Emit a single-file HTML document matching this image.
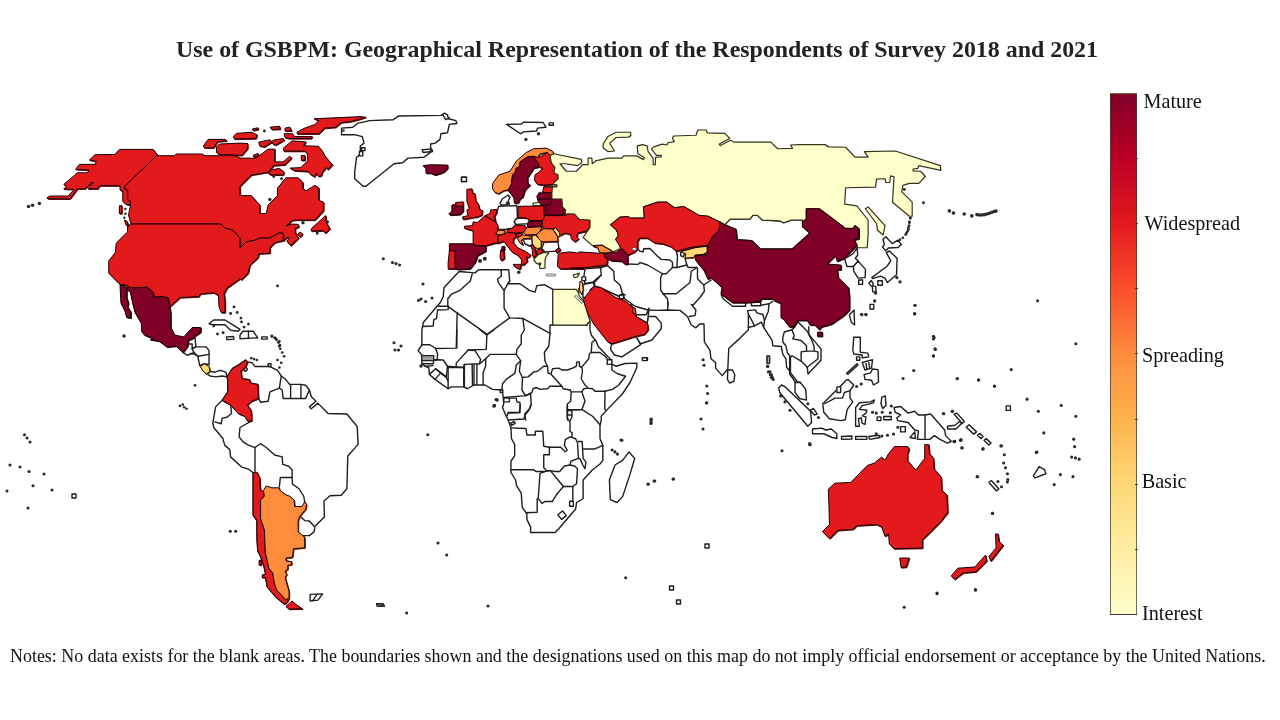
<!DOCTYPE html>
<html><head><meta charset="utf-8"><title>Use of GSBPM</title>
<style>
html,body{margin:0;padding:0;background:#fff;}
body{width:1280px;height:720px;position:relative;overflow:hidden;font-family:"Liberation Serif",serif;color:#1a1a1a;}
#title{position:absolute;left:176px;top:35.7px;font-size:23.9px;font-weight:bold;white-space:nowrap;color:#222;}
#notes{position:absolute;left:10px;top:645.7px;font-size:17.95px;white-space:nowrap;color:#111;}
#bar{position:absolute;left:1110px;top:92.5px;width:26.5px;height:522.5px;box-sizing:border-box;border:1px solid rgba(60,60,50,0.75);
background:linear-gradient(to top,#ffffcc 0%,#ffeda0 12.5%,#fed976 25%,#feb24c 37.5%,#fd8d3c 50%,#fc4e2a 62.5%,#e31a1c 75%,#bd0026 87.5%,#800026 100%);}
.lb{position:absolute;left:1143px;font-size:20.2px;line-height:20px;white-space:nowrap;color:#111;}
svg{position:absolute;left:0;top:0;}
.tk{position:absolute;left:1135px;width:3px;height:1px;background:#444;}
</style></head><body>
<div id="title">Use of GSBPM: Geographical Representation of the Respondents of Survey 2018 and 2021</div>
<svg width="1280" height="720" viewBox="0 0 1280 720">
<g fill="#fff" stroke="#1e1e1e" stroke-width="1.4" stroke-linejoin="round">
<polygon points="209.06,323.75 213.75,320 225,320 232.5,324.69 240,329.38 238.12,331.25 230.62,330.31 225,324.69 211.88,324.69"/>
<polygon points="240,335 242.81,331.25 253.12,331.25 257.81,337.81 240,338.75"/>
<polygon points="226.5,336.88 233.44,336.5 234,339.12 226.88,339.69"/>
<polygon points="261.56,336.88 267.19,336.88 267.19,339.12 261.56,339.12"/>
<polygon points="188.44,340.31 195,337.5 195.94,346.88 192.19,348.75 194.06,352.5 187.5,355.31 182.81,352.5 182.81,347.81"/>
<polygon points="195.94,346.88 206.25,346.88 209.06,350.62 209.06,364.69 204.38,363.75 199.69,365.62 197.81,356.25 194.06,352.5 192.19,348.75"/>
<polygon points="210,371.25 214.69,372.19 220.31,370.31 225.94,372.19 226.88,376.88 222.19,375.94 215.62,376.88 210,375.94 207.19,374.06"/>
<polygon points="226.88,376.88 232.5,368.44 239.06,364.69 245.62,360 247.5,361.88 252.19,362.81 255,366.56 270,366.56 277.5,370.31 281.25,375.94 285,378.75 289.69,384.38 300.94,384.38 305.62,385.31 309.38,390 311.25,396.56 315.94,401.25 309.38,406.88 311.25,408.75 317.81,403.12 328.12,413.44 346.88,414 357.19,426.56 358.12,444.38 347.81,455.94 346.88,488.75 341.25,495.31 330,495.69 324,500.94 324.38,516.88 315,526.25 314.06,531.88 309.38,535.62 302.81,535.62 304.69,537.5 304.69,547.81 293.44,548.75 292.5,557.19 285.94,558.12 285.94,560.94 291.56,561.88 291.56,564.69 287.81,565.25 287.81,569.38 285,571.25 286.72,574.38 285.16,577.5 289.06,591.56 289.06,598.59 286.72,602.5 284.38,604.06 276.56,597.81 267.19,586.88 265.62,577.5 262.5,577.5 262.5,575.16 265.62,574.38 264.06,566.56 260.16,555.62 257.81,550.94 257.03,540 256.88,520.62 253.12,515 253.12,472.81 248.44,469.06 241.88,467.19 230.62,456.88 229.69,449.38 225,445.62 223.12,440 223.12,438.75 213.75,427.5 212.81,422.81 215.62,406.88 222.19,400.31 227.81,391.88 227.81,379.69"/>
<polygon points="243.75,368.44 246,367.12 247.5,369.38 245.25,371.62"/>
<polygon points="310.16,594.38 322.66,593.91 317.97,600.16 310.16,600.94"/>
<polygon points="376.56,603.75 383.59,604.06 384.38,606.41 378.12,605.94"/>
<polygon points="341.56,128.12 352.81,127.19 357.5,123.44 369.69,120.62 393.12,119.69 398.75,115.94 440.94,115.38 444.69,113.12 447.5,115 448.44,118.75 455.94,120.62 456.88,123.44 449.38,124.38 447.5,132.81 440.94,133.75 440,139.38 435.31,143.12 430.62,144.06 430.62,147.81 432.5,150.62 427.81,154.38 424.06,157.19 408.12,158.12 402.5,162.81 394.06,163.75 365.94,186.25 363.12,186.25 354.69,178.75 354.69,172.19 356.56,157.19 360.31,154.38 360.31,145.94 364.06,143.12 362.19,136.56 354.69,134.69 341.56,134.69"/>
<polygon points="422.19,149.69 429.69,149.12 432.5,151.56 423.12,152.5"/>
<polygon points="506.56,124.38 521.56,124 523.44,122.12 543.12,122.5 545.94,127.19 537.5,128.12 536.56,130.94 523.44,131.88 520.62,133.75"/>
<polygon points="498.75,206.25 516.88,205.62 517.5,217.5 514.38,221.25 515.62,225 512.5,228.12 505,229.38 498.12,229.38 497.5,225 495,221.25 494.38,216.25 496.5,213.12"/>
<polygon points="500,203.12 502.5,198.75 508.12,195 510,197.5 508.12,201.25 509.38,204.38 505,205 501.25,205"/>
<polygon points="515,220 518.12,218.12 527.5,218.5 529.38,220.62 527.5,223.75 516.25,224.38 514.38,222.5"/>
<polygon points="523.12,239 531.88,238.5 532.5,243.75 530,246.25 525,243.75"/>
<polygon points="543.75,242.5 558.12,241.88 558.75,248.12 555,251.25 545,251.88 541.88,248.75"/>
<polygon points="459.06,271.56 475,272.88 478.75,269.69 508.75,269.69 509.69,280.94 507.81,283.75 520,283.75 529.38,290.31 535,292.19 536.88,285.62 544.38,284.69 552.81,289.38 586.25,325 590,321.25 590,330 591.25,335 596.25,341.25 598.12,346.25 607.5,356.25 611.25,360 611.88,364.38 616.25,366.25 625,363.5 636.88,363.12 636.88,367.5 630,382.5 622.5,393.75 606.25,410.62 601.25,416.25 601.25,420 600,425.62 600,438.75 602.81,445.31 602.81,460.31 600,464.06 592.5,469.69 583.12,480 583.12,498.75 576.56,502.5 575.62,509.06 558.75,528.75 555,532.5 530.62,532.5 530.62,526.88 526.88,519.38 526.88,513.75 522.19,507.19 521.25,493.12 516.56,485.62 515.62,480 510.94,472.5 510.94,461.25 514.69,455.62 514.69,444.38 511.5,438.75 510.94,427.5 508.12,420 506.25,416.25 502.5,407.5 503.75,403.75 503.12,396.25 502.5,392.5 501.25,390 492.5,389.38 485,385 473.75,385 467.5,388.75 463.75,386.88 451.25,386.88 448.12,388.75 435,379.38 429.38,374.38 428.75,367.5 425,366.25 421.88,363.75 421.88,355 418.12,350.62 421.88,345 421.88,330 422.5,326.88 423.44,322.19 440.31,302.5 443.12,296.88 444.06,287.5"/>
<polygon points="510.38,423.38 514.12,421.5 515.25,423.38 511.5,425.25"/>
<polygon points="557.81,514.69 562.5,510.94 566.25,515.62 561.56,519.38"/>
<polygon points="629.06,451.88 634.69,458.44 630,474.38 622.5,496.88 616.88,502.5 610.31,499.69 609.38,480 615,465 622.5,460.31"/>
<polygon points="680.62,252.5 683.12,251.5 685,253.75 683.12,256.88 680.62,255.62"/>
<polygon points="585,268.75 600.62,267.5 601.25,275 593.12,281.88 585,283.75 583.75,277.5"/>
<polygon points="593.12,282.5 594.38,286.25 590,290 590.62,295 583.12,298.12 582.5,290 583.75,284.38"/>
<polygon points="581.88,276.88 585.62,276.88 585.62,280.62 581.88,280.62"/>
<polygon points="611.56,343.75 635.94,336.25 640.62,344.69 621.88,356.88 614.38,355 610.62,349.38"/>
<polygon points="635.94,336.25 644.38,334.38 648.12,329.69 647.19,323.12 648.12,316.56 655.62,316.56 661.25,323.12 661.25,328.75 651.88,340 640.62,343.75"/>
<polygon points="635.94,316.56 642.5,320.31 647.19,323.12 648.12,316.56 649.06,308.12 646.25,314.69 636.88,314.69"/>
<polygon points="721.25,295 725,294.06 733.44,301.56 745.62,302.5 745.62,306.25 732.5,306.25 723.12,298.75"/>
<polygon points="727.81,370 732.5,370 734.75,374.69 734,381.25 729.69,383.12 727.44,379.38"/>
<polygon points="724.69,224.69 730.31,219.06 750,219.06 752.81,215.31 757.5,215.31 762.19,220 780,220.94 783.75,222.81 791.25,220 802.5,220 802.5,226.56 810,233.12 792.19,249.06 760.31,249.06 751.88,240.62 736.88,239.69 735.94,229.38"/>
<polygon points="844.58,258.67 852.84,253.81 857.21,247.98 857.7,255.27 855.27,258.18 858.18,261.1 853.32,266.44 847.01,266.44"/>
<polygon points="853.32,266.44 858.18,261.1 865.47,269.36 865.18,277.62 858.18,278.1 853.81,271.3"/>
<polygon points="882.96,239.23 885.88,236.8 892.2,243.61 898.03,240.2 901.43,244.58 898.03,247.49 888.31,247.98 885.88,250.89 882.48,247.01 884.42,244.58"/>
<polygon points="886.37,252.84 889.28,250.89 897.06,258.18 896.57,274.7 887.34,282.48 884.91,278.1 880.53,276.16 872.76,278.59 871.79,277.62 887.34,265.96 890.74,260.61"/>
<polygon points="868.87,282.96 871.3,280.53 873.25,283.94 872.76,285.88 875.68,286.37 876.16,292.2 872.76,291.71 872.27,286.37 870.82,285.88"/>
<polygon points="849.38,314.69 854.06,310 854.62,325 851.25,322.19"/>
<polygon points="707.5,275.62 710.62,274 712.5,276.25 709.38,279"/>
<polygon points="751.46,302.23 760.64,302.23 760.64,305.75 751.46,305.75"/>
<polygon points="778.75,387.81 781.56,385 785.31,386.88 810.62,411.25 811.56,422.5 807.81,426.25 779.69,392.5"/>
<polygon points="812.5,429.06 821.88,428.12 825.62,430 831.25,429.06 836.88,433.75 836.88,438.44 832.19,437.5 823.75,433.75 812.5,433.75"/>
<polygon points="810.25,410.31 813.44,408.44 817.19,414.06 814.38,415"/>
<polygon points="822.81,403.75 846.25,380.31 848.12,379.38 853.75,385 850,390.62 850,398.12 852.81,401.88 847.19,409.38 845.31,419.69 840.62,420.62 829.38,418.75 823.75,412.19"/>
<polygon points="855.62,407.5 859.38,402.81 870.62,401.88 874.38,400 873.44,402.81 862.19,405.62 859.38,409.38 866.88,410.31 865.94,413.12 862.19,415.94 865.94,416.88 865,424.38 862.19,423.44 861.25,417.81 858.44,418.75 859.38,426.25 855.62,426.25"/>
<polygon points="853.75,337.19 860.31,337.19 860.31,352.19 867.81,353.12 868.75,356.88 862.19,357.81 862.19,355 853.75,354.06 852.81,350.31"/>
<polygon points="862.19,362.5 872.5,359.69 871.56,368.12 865,370"/>
<polygon points="864.06,374.69 870.62,372.81 872.5,369.06 878.12,369.62 878.5,382.19 873.44,385 871.56,380.31 865,379.38"/>
<polygon points="846.62,373.19 856.94,363.81 858.06,364.94 847.75,374.31"/>
<polygon points="881.88,397.19 885.25,395.88 886,405.62 882.81,408.44 880.94,403.75"/>
<polygon points="894.06,407.5 900.62,406.56 908.12,413.12 914.69,411.25 918.44,415 925,415 930.62,414.06 944.69,430 945.62,435.62 951.25,441.25 947.5,443.12 940,439.38 934.38,435.62 929.69,439.38 925,439.38 917.5,439.38 918.44,430.94 914.69,430 908.12,422.5 897.81,420.62 896.88,417.81 900.62,415 895,412.19"/>
<polygon points="947.5,426.25 955,425.31 959.69,421.56 961.56,423.44 955.94,429.06 947.5,429.06"/>
<polygon points="954.06,414.06 956.88,413.12 964.38,421.56 962.12,423.44"/>
<polygon points="966.25,427.19 969.06,424.75 976.56,431.88 973.75,434.12"/>
<polygon points="977.5,435.25 979.75,433.38 983.12,436.56 980.88,438.62"/>
<polygon points="984.06,440.31 986.31,438.62 991,443.12 988.75,445"/>
<polygon points="841.56,436.56 851.88,436 851.88,439 841.56,439.38"/>
<polygon points="855.62,436.56 866.88,436.56 866.88,439.38 855.62,439.38"/>
<polygon points="868.75,436.56 879.06,435.25 880,437.5 869.69,439.38"/>
<polygon points="877.19,416.88 880.94,416.88 880.94,420.62 877.19,420.62"/>
<polygon points="883.75,416.5 891.25,416.5 891.25,419.69 883.75,419.69"/>
<polygon points="900.62,426.62 905.31,426.62 905.31,431.88 900.62,431.88"/>
<polygon points="910,437.5 914.69,431.88 915.62,438.44"/>
<polygon points="988.98,482.44 991.34,480.55 998.9,489.06 996.54,490.94"/>
<polygon points="1033.33,475.83 1039.17,466.67 1044.58,469.58 1045.83,473.75 1035,477.92"/>
<rect x="268.12" y="363.75" width="2.82" height="2.81"/>
<rect x="359.38" y="151.56" width="3.37" height="4.32"/>
<rect x="361.62" y="147.81" width="3.38" height="2.81"/>
<rect x="549.12" y="122.88" width="4.32" height="2.43"/>
<rect x="461.56" y="177.25" width="4.69" height="4.31"/>
<rect x="461.5" y="177.25" width="5" height="4.25"/>
<rect x="544.38" y="184.75" width="12.5" height="2.13"/>
<rect x="503.75" y="398.12" width="5.63" height="3.76"/>
<rect x="421.88" y="355.62" width="11.87" height="5"/>
<rect x="500.25" y="389.75" width="2.5" height="2.75"/>
<rect x="607.25" y="359.75" width="4.63" height="4.63"/>
<rect x="642.5" y="357.75" width="5" height="2.5"/>
<rect x="569.62" y="501.19" width="3.76" height="5.06"/>
<rect x="705" y="544" width="4" height="4"/>
<rect x="669.5" y="586" width="4" height="4"/>
<rect x="676.5" y="600" width="4" height="4"/>
<rect x="377" y="604" width="5" height="2"/>
<rect x="632.5" y="247.25" width="3.75" height="3.37"/>
<rect x="619.38" y="295" width="4.12" height="3.75"/>
<rect x="642.5" y="357.81" width="4.31" height="2.81"/>
<rect x="767.19" y="356.5" width="2.43" height="6"/>
<rect x="858.67" y="280.05" width="3.89" height="4.37"/>
<rect x="877.81" y="280.73" width="4.47" height="4.47"/>
<rect x="870" y="304.38" width="3.75" height="4.68"/>
<rect x="836.88" y="386.88" width="3.74" height="5.62"/>
<rect x="856.56" y="356.88" width="3.19" height="3.37"/>
<rect x="767.12" y="355.94" width="2.26" height="7.5"/>
<rect x="1006.25" y="405.83" width="4.17" height="4.59"/>
<rect x="72" y="494" width="4" height="4"/>
</g>
<g fill="none" stroke="#1e1e1e" stroke-width="1.4" stroke-linejoin="round" stroke-linecap="round">
<polyline points="248.44,331.25 248.44,338.19"/>
<polyline points="188.44,344.06 192.19,344.06 192.19,348.75"/>
<polyline points="190.31,353.44 195,354.38 197.81,356.25"/>
<polyline points="197.81,356.25 209.06,354.38"/>
<polyline points="247.5,361.88 245.62,366.56 240.94,371.25 241.88,378.75 249.38,379.69 251.25,383.44 257.81,384.38 258.38,398.44 260.62,402.19 268.12,401.25 270,391.88 279.38,388.12 281.25,375.94"/>
<polyline points="279.38,388.12 282.19,390 283.12,398.44 290.62,398.44 300.94,398.44 305.62,398.44 309.38,390"/>
<polyline points="290.62,384.38 290.62,398.44"/>
<polyline points="300.94,384.38 300.94,398.44"/>
<polyline points="222.19,400.31 230.62,405 231.56,413.44 226.88,417.19 222.19,418.12 221.25,423.75 214.69,421.88"/>
<polyline points="251.62,420.94 240,427.5 239.06,436.88 242.81,441.56 247.5,444.69 252.19,446.56 255,447.5 255,471.88"/>
<polyline points="255,447.5 260.62,443.75 266.25,447.5 274.69,455 282.19,456.88 282.75,464.38 288.75,466.25 292.12,470 292.12,477.5 280.31,477.5 279.38,486.88"/>
<polyline points="292.12,477.5 292.5,484.06 299.06,488.75 303.75,496.25 304.69,501.88"/>
<polyline points="300,515.94 300.94,516.88 304.69,520.62 309.38,521 314.06,526.25"/>
<polyline points="312.81,600.62 317.19,594.22"/>
<polyline points="442.81,115 445.62,119.69 449.38,117.81"/>
<polyline points="490,213.5 494.38,216.25"/>
<polyline points="472.19,274 470.31,280.94 460,290.31 451.56,294.06 447.81,298.75 447.81,306.25 438.44,306.25"/>
<polyline points="448.19,306.25 448.19,309.62 437.5,310 436.56,318.44 433.75,319.94 433.19,325.94 422.5,326.5"/>
<polyline points="448.19,306.62 487.19,334.38 509.69,317.88"/>
<polyline points="457.19,312.81 456.25,347.5"/>
<polyline points="501.25,269.69 501.25,276.25 497.5,279.06 498.44,282.81 504.06,290.31 509.69,280.94"/>
<polyline points="504.06,290.31 504.06,308.12 509.69,317.88 522.81,318.44 550,333.44 550,325 552.81,325 552.81,289.38"/>
<polyline points="552.81,325 587.5,325"/>
<polyline points="421.88,344.75 430,344.75 435.62,348.5 456.88,348.12 456.88,330"/>
<polyline points="435.62,348.5 437.5,353.75 437.25,359.38 433.75,360"/>
<polyline points="421.88,363.75 433.12,363.75 433.75,360.62 437.25,359.75 443.12,360 447.5,366.25 456.25,366.88 456.25,363.12 468.12,350 486.25,349.38 486.88,335"/>
<polyline points="480,330 486.88,335 493.75,330"/>
<polyline points="425,366.25 433.12,365.62"/>
<polyline points="468.12,350 475,350.62 480.62,359.38 479.38,363.75 464.38,364.38 463.75,367.5 456.25,366.88"/>
<polyline points="429.38,374.38 435.62,368.75 440.62,373.12 435,379.38"/>
<polyline points="435.62,368.75 437.5,370 446.25,376.88 447.5,366.25"/>
<polyline points="440.62,373.12 446.25,377.5 448.12,381.25 448.12,388.75"/>
<polyline points="448.12,381.25 448.12,367.5 463.75,367.5 463.75,386.88"/>
<polyline points="464.38,364.38 464.38,386.88"/>
<polyline points="472.12,364.38 472.5,385"/>
<polyline points="474,365 474,385"/>
<polyline points="476.88,364.38 476.88,384.38"/>
<polyline points="479.38,364 485.62,358.75 485.62,366.25 483.12,372.5 483.12,384.38"/>
<polyline points="485.62,358.75 490,354.38 516.25,354.38 520.62,360.62 516.25,365 515,373.12 506.25,379.38 502.5,383.75 501.88,390"/>
<polyline points="516.25,354.38 516.88,349.38 521.25,343.75 521.25,335 524.38,330 522.81,318.44"/>
<polyline points="520.62,360.62 519.38,371.25 522.5,377.5 521.88,390 525.62,395.62 503.75,397.5"/>
<polyline points="522.5,377.5 528.12,376.88 533.75,371.88 537.5,371.25 543.75,366.25 547.5,366.25"/>
<polyline points="550,333.44 548.75,346.25 544.38,352.5 545,361.25 547.5,366.25 548.12,373.12 550.62,373.75 561.88,386.25"/>
<polyline points="525.62,395.62 531.88,392.5 533.12,388.75 536.25,387.5 540,389.38 547.5,388.75 550,386.25 561.88,386.25 563.12,388.75 570,390"/>
<polyline points="509.38,398.12 516.25,398.12 516.88,401.88 520,402.5 520,412.5 508.12,413.12 506.88,416.25"/>
<polyline points="525.62,395.62 530.62,393.75 531.25,405 528.12,411.25 525,415 525.62,420"/>
<polyline points="551.25,373.12 552.5,368.75 558.75,368.12 561.88,370 567.5,370 572.5,368.12 576.25,366.25 576.88,361.88 579.38,361.88 579.38,366.25 581.88,367.5 582.5,371.25 581.25,378.75 585,385 588.12,388.12 592.5,388.75 595,391.25 601.25,391.25 605,391.25 612.5,389.38 618.75,385 625.62,376.25 617.5,373.75 611.88,370 611.88,364.38"/>
<polyline points="581.88,366.88 588.75,358.75 589.38,353.75 591.25,352.5 600,352.5 605,356.25 607.5,359.38"/>
<polyline points="594.38,340.62 591.88,342.5 591.25,352.5"/>
<polyline points="588.12,388.12 583.75,388.75 581.88,391.88 571.25,391.88 570,390"/>
<polyline points="605,391.25 604.75,408.75 606.25,410.62"/>
<polyline points="571.25,391.88 570.62,401.25 567.5,403.75 567.5,420"/>
<polyline points="567.5,410 581.88,409.38 585,401.25 581.88,391.88"/>
<polyline points="567.5,415 571.88,415"/>
<polyline points="508.12,412.5 519.38,412.5 520.31,405"/>
<polyline points="508.12,420 524.06,419.06 525,413.44 529.69,408.75 530.62,405"/>
<polyline points="510.94,427.88 525.94,428.44 526.88,435 535.31,435 535.31,431.25 542.81,431.25 543.75,446.25 549.38,447.19 549.38,454.69 543.75,454.69 543.75,467.81 546.56,470.62"/>
<polyline points="510.94,469.69 533.44,469.69 536.25,471.56 544.69,471.56 550.31,470.62"/>
<polyline points="549.38,447.19 560.62,447.19 565.31,451.88 567.19,450 564.38,445.31 565.31,439.69 570,436.88 575.62,438.75 577.5,442.5 578.44,458.44 570.94,461.25 570,465 564.38,465.94 559.69,471.56 555,471.56 550.31,470.62 546.56,470.62"/>
<polyline points="544.69,471.56 540,473.44 539.06,487.5 538.12,498.75 540,500.62 541.88,503.44 544.69,501.56 552.19,501.56 556.88,494.06 563.44,486.56 555,476.25 550.31,470.62"/>
<polyline points="537.19,498.75 537.19,512.25 525.94,512.81"/>
<polyline points="563.44,486.56 572.81,486.56 576.56,483.75 577.5,468.75 574.69,465.94 570,465"/>
<polyline points="572.81,486.56 572.81,501.56"/>
<polyline points="578.44,441.56 582.19,441.56 583.12,458.44 585.94,462.19 585,468.75 582.75,465 580.31,459.38 579,458.44"/>
<polyline points="583.12,449.06 594.38,449.06 602.81,445.31"/>
<polyline points="567.19,409.69 582.19,409.69 592.5,416.25 600,424.69"/>
<polyline points="567.19,405 567.19,418.12 570,421.88 570,431.25 572.25,433.12 571.88,436.88"/>
<polyline points="567.19,410.62 571.88,410.62 571.88,417.19 570,420.94"/>
<polyline points="637.5,248.75 640,251.25 643.12,251.88 643.75,248.75 650,248.5 657.5,256.25 661.25,259.38 670,260 672.5,262.5 672.5,267.5 666.25,273.75 662.5,273.75 647.5,265 640,262.5 638.12,264.38 627.5,264"/>
<polyline points="676.25,251.25 677.5,256.25 676.88,267.5 672.5,267.5"/>
<polyline points="676.88,267.5 686.88,265 688.12,267.5 696.88,267.5"/>
<polyline points="685,258.12 686.88,265"/>
<polyline points="607.5,258.75 607.5,265.62 613.75,271.25 614.38,280 620,285 622.5,293.75 625,295"/>
<polyline points="662.5,273.75 660.62,277.5 660.62,290 663.12,293.75 667.5,298.75 668.12,305"/>
<polyline points="696.88,267.5 691.25,271.25 690,282.5 676.25,293.75 663.12,293.75"/>
<polyline points="697.5,268.75 697.5,278.75 703.75,285 704.38,291.25 700,297.5 693.12,305 691.25,304.38 695.94,310 695,315.62 689.38,316.56"/>
<polyline points="703.75,285 711.25,280"/>
<polyline points="601.25,267.5 607.5,265.62"/>
<polyline points="601.25,275 594.38,282.5 595,286.25 600,287.5 618.75,296.25 622.5,293.75"/>
<polyline points="622.81,294.06 624.69,298.75 635,306.25 648.12,310 657.5,310.38 667.81,310 680,310.38 687.5,316.56 691.25,325 695.94,327.81 699.69,324.06 704,324.06 704.38,341.88 710,350.31 710.94,358.75 715.62,362.5 715.62,368.12 722.19,375.62 727.81,369.06 728.75,348.44 740,338.12 748.44,329.69 748.44,326.88"/>
<polyline points="667.81,310 667.81,302.5"/>
<polyline points="748.41,327.45 754.52,325.92 761.4,322.1 763.69,327.45 772.1,340.45 772.87,345.8 781.27,346.56 782.8,354.2 785.86,358.79 786.62,367.2 789.68,371.02"/>
<polyline points="793.5,322.87 794.27,327.45 791.97,329.75 784.33,332.04 782.8,337.39 782.8,341.97 785.86,345.8 787.39,352.68 789.68,355.73 789.68,374.08 795.03,381.72 795.03,392.42 799.62,398.54 806.5,400.06 805.73,389.36 800.38,382.48 797.32,381.72 790.45,372.55 790.45,357.26 791.97,355.73 801.15,361.08"/>
<polyline points="772.87,301.46 769.04,303.76 768.28,311.4 764.46,320.57 763.69,327.45"/>
<polyline points="748.41,327.45 748.41,314.46 747.64,310.64 755.29,309.87 756.82,312.93 762.93,314.46 764.46,320.57"/>
<polyline points="748.41,314.46 750.7,318.28 754.52,325.92"/>
<polyline points="760.64,305.29 769.04,303.76"/>
<polyline points="791.97,329.75 794.27,335.86 792.74,338.92 801.15,340.45 806.5,345.8 806.5,351.15"/>
<polyline points="793.5,322.87 797.32,321.34 807.26,331.27 811.85,340.45 814.14,346.56 814.14,351.15 806.5,351.15 801.15,351.91 801.15,361.08 807.26,367.2 817.96,358.79 817.96,351.91 814.14,351.15"/>
<polyline points="808.79,326.69 808.79,334.33 821.02,348.85 821.02,360.32 808.03,374.08 807.26,367.2"/>
<polyline points="795.03,382.48 800.38,382.48"/>
<polyline points="824.69,403.75 835,398.12 842.5,398.12 844.38,392.5 850,390.62"/>
<polyline points="865.94,363.44 866.88,369.06"/>
<polyline points="868.75,362.5 869.69,368.12"/>
<polyline points="925,415 925,439.38"/>
</g>
<g fill="#e8e8e0" stroke="#777" stroke-width="0.9">
<polygon points="546.25,274 555.62,274 555.62,276 546.25,276"/>
</g>
<g fill="none" stroke="#555" stroke-width="0.6">
<polyline points="422.12,356.62 433.5,356.62"/>
<polyline points="422.12,357.62 433.5,357.62"/>
<polyline points="422.12,358.62 433.5,358.62"/>
<polyline points="422.12,359.62 433.5,359.62"/>
</g>
<g stroke-linejoin="round">
<polygon points="119.38,149.38 153.12,149.38 157.5,155.25 124.75,186.25 125,189.38 127.75,190 127.75,200 130.62,201.25 130.62,205 126.25,204.38 122.75,201.25 122.75,191.25 120,190 120,185.62 100,185.62 97.5,188.75 88.12,188.75 93.75,182.5 91.88,182.5 85,188.75 77.5,188.75 70,198.75 48.12,198.75 46.88,197.75 50,196 68.12,196 74.38,189.38 63.75,189 66.25,186.5 63.75,184.38 77.5,172.75 87.5,172.75 88.75,170 75.62,169.38 79.38,164.38 95,164.38 96.25,161.25 89.38,160 95,154.75 115,154.38" fill="#6e0d0e" stroke="#6e0d0e" stroke-width="1" transform="translate(0.7,0.7)"/>
<polygon points="119.38,149.38 153.12,149.38 157.5,155.25 124.75,186.25 125,189.38 127.75,190 127.75,200 130.62,201.25 130.62,205 126.25,204.38 122.75,201.25 122.75,191.25 120,190 120,185.62 100,185.62 97.5,188.75 88.12,188.75 93.75,182.5 91.88,182.5 85,188.75 77.5,188.75 70,198.75 48.12,198.75 46.88,197.75 50,196 68.12,196 74.38,189.38 63.75,189 66.25,186.5 63.75,184.38 77.5,172.75 87.5,172.75 88.75,170 75.62,169.38 79.38,164.38 95,164.38 96.25,161.25 89.38,160 95,154.75 115,154.38" fill="#e31a1c" stroke="#1c0206" stroke-width="1"/>
<polygon points="156.56,155.69 174.38,155.69 176.25,154 202.5,154 204.38,155.69 236.25,155.69 240,158.12 255.94,158.12 268.12,149.12 274.69,149.12 274.69,161.88 283.12,161.88 289.69,156.25 291.56,158.12 285,164.69 273.75,165.62 268.12,172.19 251.25,175 240,186.25 240,195.62 251.25,195.62 259.69,205 259.69,213.44 266.25,213.44 268.12,205 277.5,195.62 277.5,188.12 285.94,177.81 298.12,177.81 302.81,182.5 302.81,188.12 305.62,190.94 315,185.31 318.75,188.12 318.75,200.31 323.44,202.19 323.44,210.62 315,220 295.31,220 291.88,220.62 286.25,226 291.88,224 298.12,224.38 298.75,226.88 295,228.75 295.62,233.75 298.75,238.12 290.62,245.62 286.88,241.25 289.38,238.12 287.5,237.25 283.5,240.62 283.12,233.12 278.75,233.12 270,238.12 260,238.12 253.75,240.62 246.25,241.88 240,248.12 240,238.12 232.5,230 225,228.12 221.25,224.38 219.4,224 131,224 128.5,215 130.6,205 130.62,201.25 127.75,200 127.75,190 125,189.38 124.75,186.25" fill="#6e0d0e" stroke="#6e0d0e" stroke-width="1" transform="translate(0.7,0.7)"/>
<polygon points="156.56,155.69 174.38,155.69 176.25,154 202.5,154 204.38,155.69 236.25,155.69 240,158.12 255.94,158.12 268.12,149.12 274.69,149.12 274.69,161.88 283.12,161.88 289.69,156.25 291.56,158.12 285,164.69 273.75,165.62 268.12,172.19 251.25,175 240,186.25 240,195.62 251.25,195.62 259.69,205 259.69,213.44 266.25,213.44 268.12,205 277.5,195.62 277.5,188.12 285.94,177.81 298.12,177.81 302.81,182.5 302.81,188.12 305.62,190.94 315,185.31 318.75,188.12 318.75,200.31 323.44,202.19 323.44,210.62 315,220 295.31,220 291.88,220.62 286.25,226 291.88,224 298.12,224.38 298.75,226.88 295,228.75 295.62,233.75 298.75,238.12 290.62,245.62 286.88,241.25 289.38,238.12 287.5,237.25 283.5,240.62 283.12,233.12 278.75,233.12 270,238.12 260,238.12 253.75,240.62 246.25,241.88 240,248.12 240,238.12 232.5,230 225,228.12 221.25,224.38 219.4,224 131,224 128.5,215 130.6,205 130.62,201.25 127.75,200 127.75,190 125,189.38 124.75,186.25" fill="#e31a1c" stroke="#1c0206" stroke-width="1"/>
<polygon points="311.25,228.75 325.62,215.62 326.25,222.5 330,228.75 325.62,233.12 322.5,230.62 311.25,231" fill="#6e0d0e" stroke="#6e0d0e" stroke-width="1" transform="translate(0.7,0.7)"/>
<polygon points="311.25,228.75 325.62,215.62 326.25,222.5 330,228.75 325.62,233.12 322.5,230.62 311.25,231" fill="#e31a1c" stroke="#1c0206" stroke-width="1"/>
<polygon points="300,231.88 302.75,234.38 300,237.12 297.5,234.38" fill="#6e0d0e" stroke="#6e0d0e" stroke-width="1" transform="translate(0.7,0.7)"/>
<polygon points="300,231.88 302.75,234.38 300,237.12 297.5,234.38" fill="#e31a1c" stroke="#1c0206" stroke-width="1"/>
<polygon points="208.12,139.38 225,139.38 226.88,140.88 217.5,141.62 213.75,147.81 204.38,147.81 203.44,145.94" fill="#6e0d0e" stroke="#6e0d0e" stroke-width="1" transform="translate(0.7,0.7)"/>
<polygon points="208.12,139.38 225,139.38 226.88,140.88 217.5,141.62 213.75,147.81 204.38,147.81 203.44,145.94" fill="#e31a1c" stroke="#1c0206" stroke-width="1"/>
<polygon points="219.38,144.06 240,143.12 247.5,143.5 247.5,148.75 241.88,155.31 219.38,154.38 216.56,152.5 216.56,146.88" fill="#6e0d0e" stroke="#6e0d0e" stroke-width="1" transform="translate(0.7,0.7)"/>
<polygon points="219.38,144.06 240,143.12 247.5,143.5 247.5,148.75 241.88,155.31 219.38,154.38 216.56,152.5 216.56,146.88" fill="#e31a1c" stroke="#1c0206" stroke-width="1"/>
<polygon points="236.25,133.38 251.25,132.25 256.88,134.69 255.94,138.44 234.38,139 233.44,136.56" fill="#6e0d0e" stroke="#6e0d0e" stroke-width="1" transform="translate(0.7,0.7)"/>
<polygon points="236.25,133.38 251.25,132.25 256.88,134.69 255.94,138.44 234.38,139 233.44,136.56" fill="#e31a1c" stroke="#1c0206" stroke-width="1"/>
<polygon points="270,127.19 279.38,126.25 280.31,129.06 271.88,129.44" fill="#6e0d0e" stroke="#6e0d0e" stroke-width="1" transform="translate(0.7,0.7)"/>
<polygon points="270,127.19 279.38,126.25 280.31,129.06 271.88,129.44" fill="#e31a1c" stroke="#1c0206" stroke-width="1"/>
<polygon points="285,128.12 289.69,127.19 291.56,130.94 285,130.94" fill="#6e0d0e" stroke="#6e0d0e" stroke-width="1" transform="translate(0.7,0.7)"/>
<polygon points="285,128.12 289.69,127.19 291.56,130.94 285,130.94" fill="#e31a1c" stroke="#1c0206" stroke-width="1"/>
<polygon points="252.19,129.06 257.81,127.75 258.38,129.25 253.12,130.56" fill="#6e0d0e" stroke="#6e0d0e" stroke-width="1" transform="translate(0.7,0.7)"/>
<polygon points="252.19,129.06 257.81,127.75 258.38,129.25 253.12,130.56" fill="#e31a1c" stroke="#1c0206" stroke-width="1"/>
<polygon points="258.75,142.19 270,139.75 271.88,142.19 264.38,146.88 259.69,145.94" fill="#6e0d0e" stroke="#6e0d0e" stroke-width="1" transform="translate(0.7,0.7)"/>
<polygon points="258.75,142.19 270,139.75 271.88,142.19 264.38,146.88 259.69,145.94" fill="#e31a1c" stroke="#1c0206" stroke-width="1"/>
<polygon points="272.81,140.31 283.12,138.44 284.06,140.31 275.62,145 272.81,144.06" fill="#6e0d0e" stroke="#6e0d0e" stroke-width="1" transform="translate(0.7,0.7)"/>
<polygon points="272.81,140.31 283.12,138.44 284.06,140.31 275.62,145 272.81,144.06" fill="#e31a1c" stroke="#1c0206" stroke-width="1"/>
<polygon points="314.06,118.75 354.38,116.88 360,116.5 365.62,117.25 360,119.12 350.62,121.56 341.25,122.5 335.62,127.19 324.38,128.12 318.75,133.75 297.19,133.75 297.19,131.88 304.69,128.12 315,124.38 318.75,120.62" fill="#6e0d0e" stroke="#6e0d0e" stroke-width="1" transform="translate(0.7,0.7)"/>
<polygon points="314.06,118.75 354.38,116.88 360,116.5 365.62,117.25 360,119.12 350.62,121.56 341.25,122.5 335.62,127.19 324.38,128.12 318.75,133.75 297.19,133.75 297.19,131.88 304.69,128.12 315,124.38 318.75,120.62" fill="#e31a1c" stroke="#1c0206" stroke-width="1"/>
<polygon points="284.06,133.75 292.5,133.75 294.38,136.56 312.19,136.56 311.25,138.44 288.75,138.44 285,137.5" fill="#6e0d0e" stroke="#6e0d0e" stroke-width="1" transform="translate(0.7,0.7)"/>
<polygon points="284.06,133.75 292.5,133.75 294.38,136.56 312.19,136.56 311.25,138.44 288.75,138.44 285,137.5" fill="#e31a1c" stroke="#1c0206" stroke-width="1"/>
<polygon points="271.88,169.75 279.38,168.44 284.06,172.19 283.12,175 270,174.62 268.12,173.12" fill="#6e0d0e" stroke="#6e0d0e" stroke-width="1" transform="translate(0.7,0.7)"/>
<polygon points="271.88,169.75 279.38,168.44 284.06,172.19 283.12,175 270,174.62 268.12,173.12" fill="#e31a1c" stroke="#1c0206" stroke-width="1"/>
<polygon points="253.12,155.31 257.81,153.44 258.75,155.31 254.06,157.19" fill="#6e0d0e" stroke="#6e0d0e" stroke-width="1" transform="translate(0.7,0.7)"/>
<polygon points="253.12,155.31 257.81,153.44 258.75,155.31 254.06,157.19" fill="#e31a1c" stroke="#1c0206" stroke-width="1"/>
<polygon points="283.32,148.18 289.15,143.32 292.07,140.89 305.68,141.87 303.73,145.75 318.31,146.24 322.2,151.1 324.63,155.96 332.4,164.7 328.03,169.56 326.08,167.62 322.2,172.48 321.22,175.88 318.31,176.37 316.37,172.96 314.42,176.85 310.53,174.42 308.59,171.51 294.01,170.53 290.13,168.1 300.82,167.62 307.62,160.82 307.62,154.01 304.7,151.1 283.81,151.1" fill="#6e0d0e" stroke="#6e0d0e" stroke-width="1" transform="translate(0.7,0.7)"/>
<polygon points="283.32,148.18 289.15,143.32 292.07,140.89 305.68,141.87 303.73,145.75 318.31,146.24 322.2,151.1 324.63,155.96 332.4,164.7 328.03,169.56 326.08,167.62 322.2,172.48 321.22,175.88 318.31,176.37 316.37,172.96 314.42,176.85 310.53,174.42 308.59,171.51 294.01,170.53 290.13,168.1 300.82,167.62 307.62,160.82 307.62,154.01 304.7,151.1 283.81,151.1" fill="#e31a1c" stroke="#1c0206" stroke-width="1"/>
<polygon points="301.3,155.47 304.9,155.47 304.9,160.33 301.3,160.33" fill="#6e0d0e" stroke="#6e0d0e" stroke-width="1" transform="translate(0.7,0.7)"/>
<polygon points="301.3,155.47 304.9,155.47 304.9,160.33 301.3,160.33" fill="#e31a1c" stroke="#1c0206" stroke-width="1"/>
<polygon points="131,224 219.4,224 221.25,224.38 225,228.12 232.5,230 240,238.12 240,248.12 246.25,241.88 253.75,240.62 260,238.12 270,238.12 278.75,233.12 283.12,233.12 283.38,240.62 275,242.5 270,247.5 270,253.12 258.75,253.75 258.12,257.5 250,265 248.75,270 248.12,273.12 241.25,280 240,278.75 226.88,288.12 224.06,293.75 225,301.25 225,312.5 221.25,312.5 219,306.88 218.44,295.62 213.75,292.81 200.62,293.75 198.75,296.56 180,297.5 169.69,306.88 167.81,297.5 159.38,296.56 153.75,297.5 152.81,291.88 147.19,287.19 130.31,288.12 127.5,285.31 120,284.38 108.75,273.12 108.75,260.94 115.31,252.5 116.25,243.12 127.5,231.88 127.5,226.25" fill="#6e0d0e" stroke="#6e0d0e" stroke-width="1" transform="translate(0.7,0.7)"/>
<polygon points="131,224 219.4,224 221.25,224.38 225,228.12 232.5,230 240,238.12 240,248.12 246.25,241.88 253.75,240.62 260,238.12 270,238.12 278.75,233.12 283.12,233.12 283.38,240.62 275,242.5 270,247.5 270,253.12 258.75,253.75 258.12,257.5 250,265 248.75,270 248.12,273.12 241.25,280 240,278.75 226.88,288.12 224.06,293.75 225,301.25 225,312.5 221.25,312.5 219,306.88 218.44,295.62 213.75,292.81 200.62,293.75 198.75,296.56 180,297.5 169.69,306.88 167.81,297.5 159.38,296.56 153.75,297.5 152.81,291.88 147.19,287.19 130.31,288.12 127.5,285.31 120,284.38 108.75,273.12 108.75,260.94 115.31,252.5 116.25,243.12 127.5,231.88 127.5,226.25" fill="#e31a1c" stroke="#1c0206" stroke-width="1"/>
<polygon points="127.5,285.31 130.31,288.12 147.19,287.19 152.81,291.88 153.75,297.5 159.38,296.56 167.81,297.5 169.69,306.88 170.62,312.5 170.62,327.5 174.38,335 183.75,336.88 192.19,327.5 200.62,327.5 200.62,332.19 195,335.94 192.19,338.75 188.44,339.69 187.5,346.25 182.81,352.5 176.25,345.94 166.88,346.88 159.38,341.25 150,339.38 153.75,338.75 144.38,335 141.56,331.25 141.56,323.75 135,312.5 132.19,301.25 130.31,291.88 127.5,290" fill="#3a0012" stroke="#3a0012" stroke-width="1" transform="translate(0.7,0.7)"/>
<polygon points="127.5,285.31 130.31,288.12 147.19,287.19 152.81,291.88 153.75,297.5 159.38,296.56 167.81,297.5 169.69,306.88 170.62,312.5 170.62,327.5 174.38,335 183.75,336.88 192.19,327.5 200.62,327.5 200.62,332.19 195,335.94 192.19,338.75 188.44,339.69 187.5,346.25 182.81,352.5 176.25,345.94 166.88,346.88 159.38,341.25 150,339.38 153.75,338.75 144.38,335 141.56,331.25 141.56,323.75 135,312.5 132.19,301.25 130.31,291.88 127.5,290" fill="#800026" stroke="#1c0206" stroke-width="1"/>
<polygon points="120,284.75 126.56,287.19 126.56,297.5 128.44,303.12 127.5,306.88 130.69,311.56 130.69,318.12 126.56,317.19 124.69,310.62 120.94,303.12" fill="#3a0012" stroke="#3a0012" stroke-width="1" transform="translate(0.7,0.7)"/>
<polygon points="120,284.75 126.56,287.19 126.56,297.5 128.44,303.12 127.5,306.88 130.69,311.56 130.69,318.12 126.56,317.19 124.69,310.62 120.94,303.12" fill="#800026" stroke="#1c0206" stroke-width="1"/>
<polygon points="119.38,205.62 121.62,205.62 121.62,213.5 119.38,213.5" fill="#6e0d0e" stroke="#6e0d0e" stroke-width="1" transform="translate(0.7,0.7)"/>
<polygon points="119.38,205.62 121.62,205.62 121.62,213.5 119.38,213.5" fill="#e31a1c" stroke="#1c0206" stroke-width="1"/>
<polygon points="124.38,220 126.88,221.25 128.5,226 126.25,225.38" fill="#6e0d0e" stroke="#6e0d0e" stroke-width="1" transform="translate(0.7,0.7)"/>
<polygon points="124.38,220 126.88,221.25 128.5,226 126.25,225.38" fill="#e31a1c" stroke="#1c0206" stroke-width="1"/>
<polygon points="200.25,366.56 204.38,363.75 209.06,366.56 210,371.25 206.25,374.06 202.5,370.31" fill="#6b5a2a" stroke="#6b5a2a" stroke-width="1" transform="translate(0.7,0.7)"/>
<polygon points="200.25,366.56 204.38,363.75 209.06,366.56 210,371.25 206.25,374.06 202.5,370.31" fill="#fed976" stroke="#1c0206" stroke-width="1"/>
<polygon points="226.88,376.88 232.5,368.44 239.06,364.69 245.62,360 247.5,361.88 245.62,366.56 240.94,371.25 241.88,378.75 249.38,379.69 251.25,383.44 257.81,384.38 258.38,398.44 251.25,401.25 247.5,405 251.25,410.62 251.62,420.94 247.5,420.94 244.69,416.25 238.12,413.44 230.62,405 222.19,400.31 227.81,391.88 227.81,379.69" fill="#6e0d0e" stroke="#6e0d0e" stroke-width="1" transform="translate(0.7,0.7)"/>
<polygon points="226.88,376.88 232.5,368.44 239.06,364.69 245.62,360 247.5,361.88 245.62,366.56 240.94,371.25 241.88,378.75 249.38,379.69 251.25,383.44 257.81,384.38 258.38,398.44 251.25,401.25 247.5,405 251.25,410.62 251.62,420.94 247.5,420.94 244.69,416.25 238.12,413.44 230.62,405 222.19,400.31 227.81,391.88 227.81,379.69" fill="#e31a1c" stroke="#1c0206" stroke-width="1"/>
<polygon points="253.12,472.81 256.88,472.25 259.69,477.5 260.25,489.69 263.44,491.56 264.38,496.25 260.62,500 260.62,518.75 264.38,530 265.31,552.5 267.19,560.31 268.75,568.12 272.66,572.81 274.22,582.19 276.56,590 281.25,594.69 285.16,599.38 289.06,598.59 286.72,602.5 284.38,604.06 276.56,597.81 267.19,586.88 265.62,577.5 262.5,577.5 262.5,575.16 265.62,574.38 264.06,566.56 260.16,555.62 257.81,550.94 257.03,540 256.88,520.62 253.12,515" fill="#6e0d0e" stroke="#6e0d0e" stroke-width="1" transform="translate(0.7,0.7)"/>
<polygon points="253.12,472.81 256.88,472.25 259.69,477.5 260.25,489.69 263.44,491.56 264.38,496.25 260.62,500 260.62,518.75 264.38,530 265.31,552.5 267.19,560.31 268.75,568.12 272.66,572.81 274.22,582.19 276.56,590 281.25,594.69 285.16,599.38 289.06,598.59 286.72,602.5 284.38,604.06 276.56,597.81 267.19,586.88 265.62,577.5 262.5,577.5 262.5,575.16 265.62,574.38 264.06,566.56 260.16,555.62 257.81,550.94 257.03,540 256.88,520.62 253.12,515" fill="#e31a1c" stroke="#1c0206" stroke-width="1"/>
<polygon points="260.62,500 264.38,496.25 263.44,490.62 266.25,485.94 271.88,487.81 279.38,487.81 279.38,489.69 285,494.38 289.69,496.25 294,500 294.75,506.56 301.88,506.56 304.69,501.88 306.56,504.69 305.62,509.38 300,515.94 298.12,520.62 298.12,531.88 302.81,535.62 304.69,537.5 304.69,547.81 293.44,548.75 292.5,557.19 285.94,558.12 285.94,560.94 291.56,561.88 291.56,564.69 287.81,565.25 287.81,569.38 285,571.25 286.72,574.38 285.16,577.5 289.06,591.56 289.06,598.59 285.16,599.38 281.25,594.69 276.56,590 274.22,582.19 272.66,572.81 268.75,568.12 267.19,560.31 265.31,552.5 264.38,530 260.62,518.75" fill="#7a4016" stroke="#7a4016" stroke-width="1" transform="translate(0.7,0.7)"/>
<polygon points="260.62,500 264.38,496.25 263.44,490.62 266.25,485.94 271.88,487.81 279.38,487.81 279.38,489.69 285,494.38 289.69,496.25 294,500 294.75,506.56 301.88,506.56 304.69,501.88 306.56,504.69 305.62,509.38 300,515.94 298.12,520.62 298.12,531.88 302.81,535.62 304.69,537.5 304.69,547.81 293.44,548.75 292.5,557.19 285.94,558.12 285.94,560.94 291.56,561.88 291.56,564.69 287.81,565.25 287.81,569.38 285,571.25 286.72,574.38 285.16,577.5 289.06,591.56 289.06,598.59 285.16,599.38 281.25,594.69 276.56,590 274.22,582.19 272.66,572.81 268.75,568.12 267.19,560.31 265.31,552.5 264.38,530 260.62,518.75" fill="#fd8d3c" stroke="#1c0206" stroke-width="1"/>
<polygon points="285.94,606.41 292.19,600.94 295.31,604.06 302.34,608.75 289.06,609.06" fill="#6e0d0e" stroke="#6e0d0e" stroke-width="1" transform="translate(0.7,0.7)"/>
<polygon points="285.94,606.41 292.19,600.94 295.31,604.06 302.34,608.75 289.06,609.06" fill="#e31a1c" stroke="#1c0206" stroke-width="1"/>
<polygon points="259.06,560.31 261.25,560.31 261.25,565 259.06,565" fill="#6e0d0e" stroke="#6e0d0e" stroke-width="1" transform="translate(0.7,0.7)"/>
<polygon points="259.06,560.31 261.25,560.31 261.25,565 259.06,565" fill="#e31a1c" stroke="#1c0206" stroke-width="1"/>
<polygon points="423.12,165.62 430.62,164.69 447.5,165.06 447.5,168.44 443.75,172.19 435.31,175 430.62,173.12 425.94,173.12 425.94,168.44" fill="#3a0012" stroke="#3a0012" stroke-width="1" transform="translate(0.7,0.7)"/>
<polygon points="423.12,165.62 430.62,164.69 447.5,165.06 447.5,168.44 443.75,172.19 435.31,175 430.62,173.12 425.94,173.12 425.94,168.44" fill="#800026" stroke="#1c0206" stroke-width="1"/>
<polygon points="492.5,183.75 498.75,175 510,171.25 516.25,161.25 526.25,152.5 533.75,148.75 546.25,148.12 552.5,151.25 553.75,153.75 550,155.62 547.5,152.5 540,153.75 537.5,157.5 533.12,156.25 527.5,156.88 520,161.88 520,166.25 516.25,168.12 515,172.5 512.5,175 511.25,185 508.12,190 503.75,190.62 498.75,193.75 495,192.5 492.5,188.75" fill="#7a4016" stroke="#7a4016" stroke-width="1" transform="translate(0.7,0.7)"/>
<polygon points="492.5,183.75 498.75,175 510,171.25 516.25,161.25 526.25,152.5 533.75,148.75 546.25,148.12 552.5,151.25 553.75,153.75 550,155.62 547.5,152.5 540,153.75 537.5,157.5 533.12,156.25 527.5,156.88 520,161.88 520,166.25 516.25,168.12 515,172.5 512.5,175 511.25,185 508.12,190 503.75,190.62 498.75,193.75 495,192.5 492.5,188.75" fill="#fd8d3c" stroke="#1c0206" stroke-width="1"/>
<polygon points="527.5,156.88 533.12,156.25 538.75,163.75 538.75,166.88 533.75,168.12 530,173.75 527.5,177.5 527.5,182.5 530,185 527.5,187.5 525,190 522.5,197.5 520,198.75 518.12,203.12 514.38,203.12 513.75,197.5 508.75,191.25 508.12,190 511.25,185 512.5,175 515,172.5 516.25,168.12 520,166.25 520,161.88" fill="#3a0012" stroke="#3a0012" stroke-width="1" transform="translate(0.7,0.7)"/>
<polygon points="527.5,156.88 533.12,156.25 538.75,163.75 538.75,166.88 533.75,168.12 530,173.75 527.5,177.5 527.5,182.5 530,185 527.5,187.5 525,190 522.5,197.5 520,198.75 518.12,203.12 514.38,203.12 513.75,197.5 508.75,191.25 508.12,190 511.25,185 512.5,175 515,172.5 516.25,168.12 520,166.25 520,161.88" fill="#800026" stroke="#1c0206" stroke-width="1"/>
<polygon points="538.75,157.5 547.5,152.5 550,155.62 551.25,162.5 555,167.5 553.75,172.5 558.12,175 558.12,178.75 552.5,184.38 543.75,185 537.5,184.38 534.38,180 535,175 540,171.25 542.5,168.12 538.75,166.88 538.75,163.75 533.12,156.25 537.5,157.5" fill="#6e0d0e" stroke="#6e0d0e" stroke-width="1" transform="translate(0.7,0.7)"/>
<polygon points="538.75,157.5 547.5,152.5 550,155.62 551.25,162.5 555,167.5 553.75,172.5 558.12,175 558.12,178.75 552.5,184.38 543.75,185 537.5,184.38 534.38,180 535,175 540,171.25 542.5,168.12 538.75,166.88 538.75,163.75 533.12,156.25 537.5,157.5" fill="#e31a1c" stroke="#1c0206" stroke-width="1"/>
<polygon points="543.75,186.88 552.5,186.88 552.5,192.5 542.5,192.5" fill="#6e0d0e" stroke="#6e0d0e" stroke-width="1" transform="translate(0.7,0.7)"/>
<polygon points="543.75,186.88 552.5,186.88 552.5,192.5 542.5,192.5" fill="#e31a1c" stroke="#1c0206" stroke-width="1"/>
<polygon points="538.75,193.12 551.88,192.5 551.88,198.75 537.5,199.38 536.88,196.25" fill="#3a0012" stroke="#3a0012" stroke-width="1" transform="translate(0.7,0.7)"/>
<polygon points="538.75,193.12 551.88,192.5 551.88,198.75 537.5,199.38 536.88,196.25" fill="#800026" stroke="#1c0206" stroke-width="1"/>
<polygon points="537.5,199.38 551.88,198.75 551.25,203.75 548.75,205 540.62,205.25 540,202.5 538.75,202.5" fill="#3a0012" stroke="#3a0012" stroke-width="1" transform="translate(0.7,0.7)"/>
<polygon points="537.5,199.38 551.88,198.75 551.25,203.75 548.75,205 540.62,205.25 540,202.5 538.75,202.5" fill="#800026" stroke="#1c0206" stroke-width="1"/>
<polygon points="533.12,203.12 540,202.5 540.62,205.25 533.12,205.5" fill="#ffffcc" stroke="#33331c" stroke-width="1.2"/>
<polygon points="551.88,198.75 561.88,199 562.5,206.88 565.62,210 565,213.75 560,215 545.62,215 545.62,205.62 548.75,205 551.25,203.75" fill="#3a0012" stroke="#3a0012" stroke-width="1" transform="translate(0.7,0.7)"/>
<polygon points="551.88,198.75 561.88,199 562.5,206.88 565.62,210 565,213.75 560,215 545.62,215 545.62,205.62 548.75,205 551.25,203.75" fill="#800026" stroke="#1c0206" stroke-width="1"/>
<polygon points="518.12,206.25 543.75,206 544.38,217.5 542.5,220.62 530,220.62 527.5,218.12 518.12,217.5" fill="#6e0d0e" stroke="#6e0d0e" stroke-width="1" transform="translate(0.7,0.7)"/>
<polygon points="518.12,206.25 543.75,206 544.38,217.5 542.5,220.62 530,220.62 527.5,218.12 518.12,217.5" fill="#e31a1c" stroke="#1c0206" stroke-width="1"/>
<polygon points="527.5,223.75 530,221.25 542.5,221.25 541.88,225.62 537.5,226.88 527.5,226.88" fill="#3a0012" stroke="#3a0012" stroke-width="1" transform="translate(0.7,0.7)"/>
<polygon points="527.5,223.75 530,221.25 542.5,221.25 541.88,225.62 537.5,226.88 527.5,226.88" fill="#800026" stroke="#1c0206" stroke-width="1"/>
<polygon points="542.5,220.62 545,215.62 565,215.62 568.75,213.75 574.38,214 578.75,219.38 589.38,219.75 590,226.88 586.25,231.25 577.5,233.12 576.88,236.88 578.75,238.75 575,241.88 571.25,238.75 570.62,234.38 565,233.12 560,235.62 559.38,232.5 555.62,227.75 552.5,229 543.75,228.75 541.88,225.62 542.5,221.25" fill="#6e0d0e" stroke="#6e0d0e" stroke-width="1" transform="translate(0.7,0.7)"/>
<polygon points="542.5,220.62 545,215.62 565,215.62 568.75,213.75 574.38,214 578.75,219.38 589.38,219.75 590,226.88 586.25,231.25 577.5,233.12 576.88,236.88 578.75,238.75 575,241.88 571.25,238.75 570.62,234.38 565,233.12 560,235.62 559.38,232.5 555.62,227.75 552.5,229 543.75,228.75 541.88,225.62 542.5,221.25" fill="#e31a1c" stroke="#1c0206" stroke-width="1"/>
<polygon points="466.88,189.38 471.88,188.75 472.5,193.12 475,193.75 475.62,200.62 478.75,205 479.38,209.38 482.5,210.62 481.88,215 477.5,216.88 470,218.12 463.12,219.38 462.5,216.88 468.12,215.62 466.88,210 469.38,208.75 466.88,201.25" fill="#6e0d0e" stroke="#6e0d0e" stroke-width="1" transform="translate(0.7,0.7)"/>
<polygon points="466.88,189.38 471.88,188.75 472.5,193.12 475,193.75 475.62,200.62 478.75,205 479.38,209.38 482.5,210.62 481.88,215 477.5,216.88 470,218.12 463.12,219.38 462.5,216.88 468.12,215.62 466.88,210 469.38,208.75 466.88,201.25" fill="#e31a1c" stroke="#1c0206" stroke-width="1"/>
<polygon points="455.62,202.5 463.12,201.88 463.12,206.25 455.62,206.25" fill="#6e0d0e" stroke="#6e0d0e" stroke-width="1" transform="translate(0.7,0.7)"/>
<polygon points="455.62,202.5 463.12,201.88 463.12,206.25 455.62,206.25" fill="#e31a1c" stroke="#1c0206" stroke-width="1"/>
<polygon points="451.88,205 455.62,204.38 455.62,206.25 463.12,206.25 463.12,211.25 460,214.38 450,215 448.75,213.75 451.88,211.25" fill="#3a0012" stroke="#3a0012" stroke-width="1" transform="translate(0.7,0.7)"/>
<polygon points="451.88,205 455.62,204.38 455.62,206.25 463.12,206.25 463.12,211.25 460,214.38 450,215 448.75,213.75 451.88,211.25" fill="#800026" stroke="#1c0206" stroke-width="1"/>
<polygon points="464.38,226.25 472.5,225.62 473.12,221.88 477.5,222.5 485,215.62 490,218.75 495,221.25 497.5,225 497.5,231.88 496.25,233.75 498.12,236.25 498.12,243.12 495,243.12 486.25,245.62 476.25,245.62 473.12,243.75 473.12,230.62 468.12,229.38 464.38,228.12" fill="#6e0d0e" stroke="#6e0d0e" stroke-width="1" transform="translate(0.7,0.7)"/>
<polygon points="464.38,226.25 472.5,225.62 473.12,221.88 477.5,222.5 485,215.62 490,218.75 495,221.25 497.5,225 497.5,231.88 496.25,233.75 498.12,236.25 498.12,243.12 495,243.12 486.25,245.62 476.25,245.62 473.12,243.75 473.12,230.62 468.12,229.38 464.38,228.12" fill="#e31a1c" stroke="#1c0206" stroke-width="1"/>
<polygon points="490.62,210 496.88,209.38 496.5,213.12 494.38,216.25 495.62,221.25 490,218.75 485,215.62 490,213.5" fill="#6e0d0e" stroke="#6e0d0e" stroke-width="1" transform="translate(0.7,0.7)"/>
<polygon points="490.62,210 496.88,209.38 496.5,213.12 494.38,216.25 495.62,221.25 490,218.75 485,215.62 490,213.5" fill="#e31a1c" stroke="#1c0206" stroke-width="1"/>
<polygon points="506.88,230 512.5,228.12 515.62,225 525,225.62 526.25,228.75 522.5,232.5 515,233.12 507.5,232.5" fill="#6e0d0e" stroke="#6e0d0e" stroke-width="1" transform="translate(0.7,0.7)"/>
<polygon points="506.88,230 512.5,228.12 515.62,225 525,225.62 526.25,228.75 522.5,232.5 515,233.12 507.5,232.5" fill="#e31a1c" stroke="#1c0206" stroke-width="1"/>
<polygon points="496.25,231.88 500,230 505,230.62 505,233.75 499.38,235 496.25,233.75" fill="#7a4016" stroke="#7a4016" stroke-width="1" transform="translate(0.7,0.7)"/>
<polygon points="496.25,231.88 500,230 505,230.62 505,233.75 499.38,235 496.25,233.75" fill="#fd8d3c" stroke="#1c0206" stroke-width="1"/>
<polygon points="525,230 527.5,227.5 538.75,226.88 541.88,226.88 540,231.25 536.25,234.38 526.25,235 523.75,232.5" fill="#7a4016" stroke="#7a4016" stroke-width="1" transform="translate(0.7,0.7)"/>
<polygon points="525,230 527.5,227.5 538.75,226.88 541.88,226.88 540,231.25 536.25,234.38 526.25,235 523.75,232.5" fill="#fd8d3c" stroke="#1c0206" stroke-width="1"/>
<polygon points="516.25,233.5 521.88,233.12 521.88,236.25 516.88,236.88" fill="#6e0d0e" stroke="#6e0d0e" stroke-width="1" transform="translate(0.7,0.7)"/>
<polygon points="516.25,233.5 521.88,233.12 521.88,236.25 516.88,236.88" fill="#e31a1c" stroke="#1c0206" stroke-width="1"/>
<polygon points="518.12,237.5 522.5,235 527.5,235.62 531.25,236.25 531.88,238.12 523.12,238.75 521.25,240.62 523.12,245 520,243.12 517.5,238.75" fill="#7a4016" stroke="#7a4016" stroke-width="1" transform="translate(0.7,0.7)"/>
<polygon points="518.12,237.5 522.5,235 527.5,235.62 531.25,236.25 531.88,238.12 523.12,238.75 521.25,240.62 523.12,245 520,243.12 517.5,238.75" fill="#fd8d3c" stroke="#1c0206" stroke-width="1"/>
<polygon points="532.5,235.62 535.62,235 538.75,238.75 541.25,241.25 541.25,247.5 537.5,248.75 533.75,246.25 532.5,243.75 531.88,238.12" fill="#6b5a2a" stroke="#6b5a2a" stroke-width="1" transform="translate(0.7,0.7)"/>
<polygon points="532.5,235.62 535.62,235 538.75,238.75 541.25,241.25 541.25,247.5 537.5,248.75 533.75,246.25 532.5,243.75 531.88,238.12" fill="#fed976" stroke="#1c0206" stroke-width="1"/>
<polygon points="540,231.25 543.75,228.75 552.5,229 557.5,236.25 558.12,241.25 543.75,241.88 541.25,241.25 538.75,238.75 536.25,235" fill="#7a4016" stroke="#7a4016" stroke-width="1" transform="translate(0.7,0.7)"/>
<polygon points="540,231.25 543.75,228.75 552.5,229 557.5,236.25 558.12,241.25 543.75,241.88 541.25,241.25 538.75,238.75 536.25,235" fill="#fd8d3c" stroke="#1c0206" stroke-width="1"/>
<polygon points="553.12,229.38 555.62,227.75 559.38,232.5 560,235.62 558.12,236.88" fill="#6b5a2a" stroke="#6b5a2a" stroke-width="1" transform="translate(0.7,0.7)"/>
<polygon points="553.12,229.38 555.62,227.75 559.38,232.5 560,235.62 558.12,236.88" fill="#fed976" stroke="#1c0206" stroke-width="1"/>
<polygon points="530.62,245.62 533.12,245 535,248.75 536.25,255 533.75,258.12 532.5,255 532.5,250" fill="#6e0d0e" stroke="#6e0d0e" stroke-width="1" transform="translate(0.7,0.7)"/>
<polygon points="530.62,245.62 533.12,245 535,248.75 536.25,255 533.75,258.12 532.5,255 532.5,250" fill="#e31a1c" stroke="#1c0206" stroke-width="1"/>
<polygon points="536.88,250 541.25,248.75 543.12,251.88 538.75,254.38 536.25,253.75" fill="#6e0d0e" stroke="#6e0d0e" stroke-width="1" transform="translate(0.7,0.7)"/>
<polygon points="536.88,250 541.25,248.75 543.12,251.88 538.75,254.38 536.25,253.75" fill="#e31a1c" stroke="#1c0206" stroke-width="1"/>
<polygon points="535,258.12 538.75,254.38 543.75,252.5 548.75,253.12 546.25,256.25 545,260 545,268.12 540,268.75 539.38,264.38 536.25,263.12 533.75,260" fill="#ffffcc" stroke="#33331c" stroke-width="1.2"/>
<polygon points="498.12,236.25 500,235 505,233.75 507.5,232.5 515,233.12 516.25,236.88 513.75,238.75 513.12,242.5 517.5,247.5 525,251.25 530.62,255 528.75,257.5 526.25,256.88 527.5,261.25 523.75,265 521.25,264.38 521.88,260 517.5,255 512.5,252.5 507.5,246.25 503.75,241.25 498.12,243.12" fill="#6e0d0e" stroke="#6e0d0e" stroke-width="1" transform="translate(0.7,0.7)"/>
<polygon points="498.12,236.25 500,235 505,233.75 507.5,232.5 515,233.12 516.25,236.88 513.75,238.75 513.12,242.5 517.5,247.5 525,251.25 530.62,255 528.75,257.5 526.25,256.88 527.5,261.25 523.75,265 521.25,264.38 521.88,260 517.5,255 512.5,252.5 507.5,246.25 503.75,241.25 498.12,243.12" fill="#e31a1c" stroke="#1c0206" stroke-width="1"/>
<polygon points="513.12,264.38 521.25,264.38 520,269.38 515,266.88" fill="#6e0d0e" stroke="#6e0d0e" stroke-width="1" transform="translate(0.7,0.7)"/>
<polygon points="513.12,264.38 521.25,264.38 520,269.38 515,266.88" fill="#e31a1c" stroke="#1c0206" stroke-width="1"/>
<polygon points="500.62,250 503.75,248.75 504.38,258.75 501.25,260.62 500,257.5" fill="#6e0d0e" stroke="#6e0d0e" stroke-width="1" transform="translate(0.7,0.7)"/>
<polygon points="500.62,250 503.75,248.75 504.38,258.75 501.25,260.62 500,257.5" fill="#e31a1c" stroke="#1c0206" stroke-width="1"/>
<polygon points="501.88,246.88 504.38,246.25 504.38,250 501.88,250.62" fill="#3a0012" stroke="#3a0012" stroke-width="1" transform="translate(0.7,0.7)"/>
<polygon points="501.88,246.88 504.38,246.25 504.38,250 501.88,250.62" fill="#800026" stroke="#1c0206" stroke-width="1"/>
<polygon points="449.38,243.75 473.12,243.75 476.25,245.62 485.62,246.25 485.62,251.25 477.5,255.62 475,262.5 470,268.75 458.75,269.38 455,268.75 455,251.25 449.38,250.62" fill="#3a0012" stroke="#3a0012" stroke-width="1" transform="translate(0.7,0.7)"/>
<polygon points="449.38,243.75 473.12,243.75 476.25,245.62 485.62,246.25 485.62,251.25 477.5,255.62 475,262.5 470,268.75 458.75,269.38 455,268.75 455,251.25 449.38,250.62" fill="#800026" stroke="#1c0206" stroke-width="1"/>
<polygon points="449.38,250.62 455,251.25 455,268.75 448.12,268.75 448.12,262.5" fill="#6e0d0e" stroke="#6e0d0e" stroke-width="1" transform="translate(0.7,0.7)"/>
<polygon points="449.38,250.62 455,251.25 455,268.75 448.12,268.75 448.12,262.5" fill="#e31a1c" stroke="#1c0206" stroke-width="1"/>
<polygon points="558.12,255 560,253.12 570,251.88 577.5,253.12 578.75,251.88 597.5,253.12 604.38,253.75 605,256.25 607.5,258.75 606.88,265 585,267.5 570,268.12 583.75,268.75 560,268.75 557.5,266.25" fill="#6e0d0e" stroke="#6e0d0e" stroke-width="1" transform="translate(0.7,0.7)"/>
<polygon points="558.12,255 560,253.12 570,251.88 577.5,253.12 578.75,251.88 597.5,253.12 604.38,253.75 605,256.25 607.5,258.75 606.88,265 585,267.5 570,268.12 583.75,268.75 560,268.75 557.5,266.25" fill="#e31a1c" stroke="#1c0206" stroke-width="1"/>
<polygon points="555.62,250 559.38,248.12 560.62,250 556.88,253.12" fill="#6e0d0e" stroke="#6e0d0e" stroke-width="1" transform="translate(0.7,0.7)"/>
<polygon points="555.62,250 559.38,248.12 560.62,250 556.88,253.12" fill="#e31a1c" stroke="#1c0206" stroke-width="1"/>
<polygon points="573.12,275 579.38,273.12 577.5,276.88 574.38,277.75" fill="#ffffcc" stroke="#33331c" stroke-width="1.2"/>
<polygon points="553.75,153.75 581.25,159.38 581.88,162.5 577.5,165.62 565,163.75 560,163.75 566.25,171.25 576.25,171.25 581.25,166.25 582.12,164.69 588.12,164.69 588.12,158.12 591.88,158.12 592.25,163.75 595.62,160.94 607.81,158.12 621.88,158.12 623.75,155.88 636.88,155.88 643.44,159.62 644.38,157.75 637.81,153.44 637.25,145.94 642.5,144.62 647.19,145.94 648.12,151.56 653.19,158.12 653.19,164.69 655.25,164.69 655.62,157.19 661.25,156.81 661.25,155.31 656.56,155.31 651.31,149.12 653.75,146.88 662.19,144.06 666.88,145 667.81,142.75 674.38,141.62 672.5,138.44 673.44,136 695.94,135.25 697.81,130 706.25,130 707.19,132.81 725,133.38 729.69,138.44 719.38,144.06 720.31,145.56 730.62,140.31 734.38,142.19 770.94,142.19 777.5,148.75 792.5,148.38 790.62,145 800,144.62 825,144.62 828.75,146.88 845.62,147.25 855,157.19 868.12,157.19 864.38,151.56 895.31,151 940.31,165.62 940.88,170.31 918.75,165.62 917.81,168.44 913.12,169 913.12,170.88 920.62,171.25 925.31,176.5 918.75,183.44 909.38,183.44 902.81,185.31 901.88,191.88 912.19,202.19 912.19,216.25 909.38,216.25 892.5,202.19 894,176.88 890.62,175.94 889.69,182.5 885.94,182.5 885,178.75 876.56,179.12 875.62,187.19 845.62,187.75 844.69,204.06 856.88,205.94 868.12,220 868.12,235 867.19,247.75 857.44,247.75 856.88,245.31 854.06,239.69 858.75,238.75 858.75,228.44 855,225.62 853.12,228.44 845.62,228.44 834.38,220 819.38,208.75 806.25,208.75 806.25,219.06 802.5,221.88 802.5,220 791.25,220 783.75,222.81 780,220.94 762.19,220 757.5,215.31 752.81,215.31 750,219.06 730.31,219.06 724.69,224.69 720,221.88 719.38,221.88 708.12,216.25 698.75,215.31 683.75,206.5 674.38,207.81 666.88,202.19 657.5,202.19 643.44,206.88 644.38,218.12 630.31,218.12 628.44,216.62 620,217.19 610.62,224.69 616.25,230 618.12,233.75 618.12,236.25 615.62,239.38 620,244.38 620,248.75 613.12,251.88 610.62,250 601.88,245 592.5,245.62 583.12,237.5 586.88,231.88 590,227.5 590,220 579.38,219.38 574.38,214 568.75,213.75 565,214 565.62,210 562.5,206.88 561.88,199 551.88,198.75 551.88,192.5 552.5,186.88 556.88,186.88 556.88,184.75 552.5,184.38 558.12,178.75 558.12,175 553.75,172.5 555,167.5 551.25,162.5 550,155.62" fill="#ffffcc" stroke="#33331c" stroke-width="1.2"/>
<polygon points="603.12,144.06 607.81,136.56 616.25,132.25 630.31,132.25 630.88,135.62 628.44,137.12 616.25,137.5 609.69,143.12 614.38,151 607.81,151.56 603.12,147.81" fill="#ffffcc" stroke="#33331c" stroke-width="1.2"/>
<polygon points="865.31,208.75 868.12,206.88 885,225.62 883.12,235 877.5,230.31 876.56,223.75" fill="#ffffcc" stroke="#33331c" stroke-width="1.2"/>
<polygon points="610.62,224.69 620,217.19 628.44,216.62 630.31,218.12 644.38,218.12 643.44,206.88 657.5,202.19 666.88,202.19 674.38,207.81 683.75,206.5 698.75,215.31 708.12,216.25 719.38,221.88 720,221.88 719.06,230.31 712.5,236.88 707.81,245.31 697.5,246.25 687.5,248.12 681.25,250 676.25,251.25 671.25,246.88 662.5,243.75 655,243.12 647.5,238.12 639.38,238.12 637.5,241.88 637.5,248.75 635,251.88 628.12,255 623.75,250.31 620.94,248.12 615.62,239.38 618.12,236.25 618.12,233.75 616.25,230" fill="#6e0d0e" stroke="#6e0d0e" stroke-width="1" transform="translate(0.7,0.7)"/>
<polygon points="610.62,224.69 620,217.19 628.44,216.62 630.31,218.12 644.38,218.12 643.44,206.88 657.5,202.19 666.88,202.19 674.38,207.81 683.75,206.5 698.75,215.31 708.12,216.25 719.38,221.88 720,221.88 719.06,230.31 712.5,236.88 707.81,245.31 697.5,246.25 687.5,248.12 681.25,250 676.25,251.25 671.25,246.88 662.5,243.75 655,243.12 647.5,238.12 639.38,238.12 637.5,241.88 637.5,248.75 635,251.88 628.12,255 623.75,250.31 620.94,248.12 615.62,239.38 618.12,236.25 618.12,233.75 616.25,230" fill="#e31a1c" stroke="#1c0206" stroke-width="1"/>
<polygon points="593.12,246.25 601.88,245.38 610.62,250.25 611.25,252.5 606.25,253.12 599.38,252.5 598.12,248.12" fill="#7a4016" stroke="#7a4016" stroke-width="1" transform="translate(0.7,0.7)"/>
<polygon points="593.12,246.25 601.88,245.38 610.62,250.25 611.25,252.5 606.25,253.12 599.38,252.5 598.12,248.12" fill="#fd8d3c" stroke="#1c0206" stroke-width="1"/>
<polygon points="604.06,253.44 611.25,252.81 616.25,252.19 621.25,248.75 623.75,250.62 627.5,255 627.81,264.06 625,264.38 621.88,261.25 611.25,260.62 607.5,258.75 604.38,256.88" fill="#3a0012" stroke="#3a0012" stroke-width="1" transform="translate(0.7,0.7)"/>
<polygon points="604.06,253.44 611.25,252.81 616.25,252.19 621.25,248.75 623.75,250.62 627.5,255 627.81,264.06 625,264.38 621.88,261.25 611.25,260.62 607.5,258.75 604.38,256.88" fill="#800026" stroke="#1c0206" stroke-width="1"/>
<polygon points="681.88,251.25 686.88,250 695,247.75 706.88,246.25 707.5,251.88 703.12,254.38 695,255 693.75,257.5 685,258.12 685.62,253.75 682.5,252.5" fill="#6b5a2a" stroke="#6b5a2a" stroke-width="1" transform="translate(0.7,0.7)"/>
<polygon points="681.88,251.25 686.88,250 695,247.75 706.88,246.25 707.5,251.88 703.12,254.38 695,255 693.75,257.5 685,258.12 685.62,253.75 682.5,252.5" fill="#fed976" stroke="#1c0206" stroke-width="1"/>
<polygon points="580,281.25 582.5,282.5 583.12,290 581.88,295 579.38,290" fill="#6b5a2a" stroke="#6b5a2a" stroke-width="1" transform="translate(0.7,0.7)"/>
<polygon points="580,281.25 582.5,282.5 583.12,290 581.88,295 579.38,290" fill="#fed976" stroke="#1c0206" stroke-width="1"/>
<polygon points="552.81,289.38 576.25,289.38 579.06,294.06 578.75,288.44 578.75,295 584.38,302.5 590,321.25 586.25,325 552.81,325" fill="#ffffcc" stroke="#33331c" stroke-width="1.2"/>
<polygon points="574.62,296.5 576.12,295.38 583.44,302.12 582.12,303.62" fill="#fff" stroke="#444" stroke-width="0.9"/>
<polygon points="583.44,299.69 587.19,294.06 593.75,286.56 600.31,287.5 616.25,297.81 624.69,300.62 634.06,308.12 635.94,316.56 642.5,320.31 647.19,323.12 648.12,329.69 644.38,334.38 635.94,336.25 611.56,343.75 607.81,341.88 593.75,324.06 588.12,313.75 585.31,306.25" fill="#6e0d0e" stroke="#6e0d0e" stroke-width="1" transform="translate(0.7,0.7)"/>
<polygon points="583.44,299.69 587.19,294.06 593.75,286.56 600.31,287.5 616.25,297.81 624.69,300.62 634.06,308.12 635.94,316.56 642.5,320.31 647.19,323.12 648.12,329.69 644.38,334.38 635.94,336.25 611.56,343.75 607.81,341.88 593.75,324.06 588.12,313.75 585.31,306.25" fill="#e31a1c" stroke="#1c0206" stroke-width="1"/>
<polygon points="632.75,308.12 635,308.12 635.38,313.75 633.12,313.38" fill="#7a4016" stroke="#7a4016" stroke-width="1" transform="translate(0.7,0.7)"/>
<polygon points="632.75,308.12 635,308.12 635.38,313.75 633.12,313.38" fill="#fd8d3c" stroke="#1c0206" stroke-width="1"/>
<polygon points="631.88,248.75 633.88,247.19 636.25,248.25 636.56,250.31 632.62,250.31" fill="#fff" stroke="#444" stroke-width="0.9"/>
<polygon points="720,221.88 724.69,224.69 735.94,229.38 736.88,239.69 751.88,240.62 760.31,249.06 792.19,249.06 810,233.12 802.5,226.56 802.5,221.88 806.25,219.06 806.25,208.75 819.38,208.75 834.38,220 845.62,228.44 853.12,228.44 855,225.62 858.75,228.44 858.75,238.75 854.06,239.69 856.88,245.31 851.25,250.94 843.75,258.44 837.19,261.25 835.31,255.62 826.88,264.06 840.94,265 840.94,269.69 837.19,269.69 838.12,277.19 848.44,287.5 849.38,296.88 849.38,310 843.75,315.62 831.56,324.06 821.25,326.88 819.38,329.69 814.69,325 810,325 807.19,320.31 797.81,320.31 794.06,326.88 789.38,326.88 783.75,319.38 780.94,317.5 780.94,303.44 774.38,300.62 772.5,298.75 761.25,298.75 760.31,301.56 746.25,302.5 732.19,302.5 720.94,294.06 721.88,287.5 710.62,277.19 707.81,279.06 704.06,270.62 695.62,260.31 695.62,255.62 706.88,254.69 707.81,245.31 712.5,236.88 719.06,230.31" fill="#3a0012" stroke="#3a0012" stroke-width="1" transform="translate(0.7,0.7)"/>
<polygon points="720,221.88 724.69,224.69 735.94,229.38 736.88,239.69 751.88,240.62 760.31,249.06 792.19,249.06 810,233.12 802.5,226.56 802.5,221.88 806.25,219.06 806.25,208.75 819.38,208.75 834.38,220 845.62,228.44 853.12,228.44 855,225.62 858.75,228.44 858.75,238.75 854.06,239.69 856.88,245.31 851.25,250.94 843.75,258.44 837.19,261.25 835.31,255.62 826.88,264.06 840.94,265 840.94,269.69 837.19,269.69 838.12,277.19 848.44,287.5 849.38,296.88 849.38,310 843.75,315.62 831.56,324.06 821.25,326.88 819.38,329.69 814.69,325 810,325 807.19,320.31 797.81,320.31 794.06,326.88 789.38,326.88 783.75,319.38 780.94,317.5 780.94,303.44 774.38,300.62 772.5,298.75 761.25,298.75 760.31,301.56 746.25,302.5 732.19,302.5 720.94,294.06 721.88,287.5 710.62,277.19 707.81,279.06 704.06,270.62 695.62,260.31 695.62,255.62 706.88,254.69 707.81,245.31 712.5,236.88 719.06,230.31" fill="#800026" stroke="#1c0206" stroke-width="1"/>
<polygon points="817.5,332.12 822.19,332.12 822.19,336.25 817.5,336.25" fill="#3a0012" stroke="#3a0012" stroke-width="1" transform="translate(0.7,0.7)"/>
<polygon points="817.5,332.12 822.19,332.12 822.19,336.25 817.5,336.25" fill="#800026" stroke="#1c0206" stroke-width="1"/>
<polygon points="894.49,446.54 907.48,446.54 909.13,448.9 907.48,454.8 907.48,460.71 915.75,470.16 924.72,458.35 924.72,444.65 928.74,444.65 929.45,453.62 933.46,458.35 934.17,468.98 941.26,477.24 941.73,490.24 946.93,494.96 947.64,512.68 941.26,520.94 922.36,539.84 922.36,548.11 893.78,548.58 889.29,543.62 888.58,533.94 885.04,536.3 881.5,526.85 876.77,524.49 856.69,525.67 853.15,529.21 837.8,530.39 829.53,538.66 822.44,531.57 829.53,524.49 828.35,489.06 834.96,483.15 850.79,482.44 867.32,465.43 874.41,463.07 881.5,457.17 885.04,460.24 888.58,453.62" fill="#6e0d0e" stroke="#6e0d0e" stroke-width="1" transform="translate(0.7,0.7)"/>
<polygon points="894.49,446.54 907.48,446.54 909.13,448.9 907.48,454.8 907.48,460.71 915.75,470.16 924.72,458.35 924.72,444.65 928.74,444.65 929.45,453.62 933.46,458.35 934.17,468.98 941.26,477.24 941.73,490.24 946.93,494.96 947.64,512.68 941.26,520.94 922.36,539.84 922.36,548.11 893.78,548.58 889.29,543.62 888.58,533.94 885.04,536.3 881.5,526.85 876.77,524.49 856.69,525.67 853.15,529.21 837.8,530.39 829.53,538.66 822.44,531.57 829.53,524.49 828.35,489.06 834.96,483.15 850.79,482.44 867.32,465.43 874.41,463.07 881.5,457.17 885.04,460.24 888.58,453.62" fill="#e31a1c" stroke="#1c0206" stroke-width="1"/>
<polygon points="899.69,558.03 909.13,558.03 906.3,567.01 901.1,567.48" fill="#6e0d0e" stroke="#6e0d0e" stroke-width="1" transform="translate(0.7,0.7)"/>
<polygon points="899.69,558.03 909.13,558.03 906.3,567.01 901.1,567.48" fill="#e31a1c" stroke="#1c0206" stroke-width="1"/>
<polygon points="988.98,556.38 996.06,548.11 995.59,533.94 997.95,533.94 998.9,541.02 1003.15,545.28 990.87,561.1" fill="#6e0d0e" stroke="#6e0d0e" stroke-width="1" transform="translate(0.7,0.7)"/>
<polygon points="988.98,556.38 996.06,548.11 995.59,533.94 997.95,533.94 998.9,541.02 1003.15,545.28 990.87,561.1" fill="#e31a1c" stroke="#1c0206" stroke-width="1"/>
<polygon points="951.18,575.98 957.8,568.19 974.8,567.01 985.43,555.2 986.61,561.1 975.98,571.73 962.99,572.91 954.72,579.29" fill="#6e0d0e" stroke="#6e0d0e" stroke-width="1" transform="translate(0.7,0.7)"/>
<polygon points="951.18,575.98 957.8,568.19 974.8,567.01 985.43,555.2 986.61,561.1 975.98,571.73 962.99,572.91 954.72,579.29" fill="#e31a1c" stroke="#1c0206" stroke-width="1"/>
</g>
<g fill="#2a2a2a">
<circle cx="28.5" cy="206.5" r="1.75"/>
<circle cx="32.5" cy="205.25" r="1.75"/>
<circle cx="39.38" cy="203.5" r="1.75"/>
<circle cx="949.4" cy="210.9" r="1.8"/>
<circle cx="953.4" cy="213.1" r="1.8"/>
<circle cx="964.2" cy="214" r="1.8"/>
<circle cx="971.8" cy="215.9" r="1.8"/>
<circle cx="977" cy="214.6" r="1.8"/>
<circle cx="979.5" cy="215" r="1.8"/>
<circle cx="982" cy="215" r="1.8"/>
<circle cx="984.5" cy="214.6" r="1.8"/>
<circle cx="987" cy="214" r="1.8"/>
<circle cx="989.5" cy="213.2" r="1.8"/>
<circle cx="992" cy="212.3" r="1.8"/>
<circle cx="994.3" cy="211.5" r="1.8"/>
<circle cx="996" cy="211" r="1.8"/>
<circle cx="303.12" cy="222.75" r="1.55"/>
<circle cx="327.25" cy="221.88" r="1.55"/>
<circle cx="317.25" cy="233.12" r="1.55"/>
<circle cx="269.75" cy="199.38" r="1.55"/>
<circle cx="264.38" cy="130.94" r="1.45"/>
<circle cx="273.75" cy="176.5" r="1.45"/>
<circle cx="281.62" cy="178.75" r="1.45"/>
<circle cx="270" cy="199.38" r="1.45"/>
<circle cx="302.81" cy="222.81" r="1.45"/>
<circle cx="327.19" cy="221.88" r="1.45"/>
<circle cx="234" cy="306.88" r="1.45"/>
<circle cx="230.62" cy="313.44" r="1.45"/>
<circle cx="237.19" cy="312.5" r="1.45"/>
<circle cx="240.94" cy="318.12" r="1.45"/>
<circle cx="241.5" cy="321.88" r="1.45"/>
<circle cx="248.44" cy="324.12" r="1.45"/>
<circle cx="244.12" cy="327.12" r="1.45"/>
<circle cx="213.75" cy="326" r="1.45"/>
<circle cx="217.5" cy="334.06" r="1.45"/>
<circle cx="223.12" cy="332.75" r="1.45"/>
<circle cx="271.88" cy="335.94" r="1.45"/>
<circle cx="274.69" cy="337.81" r="1.45"/>
<circle cx="276.56" cy="339.69" r="1.45"/>
<circle cx="278.44" cy="342.5" r="1.45"/>
<circle cx="279.38" cy="346.25" r="1.45"/>
<circle cx="277.5" cy="285.88" r="1.45"/>
<circle cx="124.12" cy="336.31" r="1.45"/>
<circle cx="271.88" cy="336.56" r="1.35"/>
<circle cx="275.62" cy="338.44" r="1.35"/>
<circle cx="279.38" cy="341.25" r="1.35"/>
<circle cx="279.94" cy="345" r="1.35"/>
<circle cx="280.31" cy="348.75" r="1.35"/>
<circle cx="282.19" cy="352.5" r="1.35"/>
<circle cx="284.06" cy="356.25" r="1.35"/>
<circle cx="281.25" cy="362.81" r="1.35"/>
<circle cx="277.5" cy="360" r="1.35"/>
<circle cx="279.38" cy="367.5" r="1.35"/>
<circle cx="251.25" cy="358.12" r="1.35"/>
<circle cx="254.06" cy="359.06" r="1.35"/>
<circle cx="256.88" cy="360" r="1.35"/>
<circle cx="195" cy="385.31" r="1.35"/>
<circle cx="180" cy="405.94" r="1.35"/>
<circle cx="182.81" cy="404.62" r="1.35"/>
<circle cx="184.12" cy="407.25" r="1.35"/>
<circle cx="186.56" cy="408.75" r="1.35"/>
<circle cx="125.38" cy="209" r="1.25"/>
<circle cx="125.38" cy="213.75" r="1.25"/>
<circle cx="124.38" cy="217.75" r="1.25"/>
<circle cx="230.25" cy="531.31" r="1.55"/>
<circle cx="235.69" cy="531.31" r="1.55"/>
<circle cx="343.44" cy="130.38" r="1.25"/>
<circle cx="538.44" cy="133.75" r="1.65"/>
<circle cx="525.88" cy="139.38" r="1.65"/>
<circle cx="507.5" cy="203.12" r="1.85"/>
<circle cx="540" cy="193.12" r="1.25"/>
<circle cx="540" cy="264" r="1.45"/>
<circle cx="480" cy="261" r="2.05"/>
<circle cx="484.75" cy="258.75" r="2.05"/>
<circle cx="518.75" cy="272.25" r="1.75"/>
<circle cx="904.31" cy="189.44" r="1.45"/>
<circle cx="923.44" cy="202.75" r="1.45"/>
<circle cx="910.31" cy="218.12" r="1.45"/>
<circle cx="909.38" cy="221.88" r="1.45"/>
<circle cx="909" cy="225.62" r="1.45"/>
<circle cx="908.44" cy="229.38" r="1.45"/>
<circle cx="906.56" cy="233.12" r="1.45"/>
<circle cx="910.31" cy="218.12" r="1.35"/>
<circle cx="909.38" cy="222.81" r="1.35"/>
<circle cx="908.44" cy="227.5" r="1.35"/>
<circle cx="907.5" cy="231.25" r="1.35"/>
<circle cx="905.62" cy="234.62" r="1.35"/>
<circle cx="902.81" cy="237.81" r="1.35"/>
<circle cx="900" cy="239.69" r="1.35"/>
<circle cx="421" cy="366" r="1.75"/>
<circle cx="497.12" cy="400" r="1.75"/>
<circle cx="494.38" cy="405.62" r="1.75"/>
<circle cx="651.25" cy="419.38" r="1.55"/>
<circle cx="621.94" cy="440.25" r="1.55"/>
<circle cx="648.19" cy="484.31" r="1.55"/>
<circle cx="654.75" cy="480.94" r="1.55"/>
<circle cx="673.5" cy="479.06" r="1.55"/>
<circle cx="494.06" cy="405.94" r="1.55"/>
<circle cx="612.19" cy="450" r="1.55"/>
<circle cx="615" cy="451.88" r="1.55"/>
<circle cx="617.44" cy="454.12" r="1.55"/>
<circle cx="651" cy="420.94" r="1.55"/>
<circle cx="651" cy="423.38" r="1.55"/>
<circle cx="383.3" cy="258.7" r="1.55"/>
<circle cx="392.5" cy="262.5" r="1.55"/>
<circle cx="396" cy="263.6" r="1.55"/>
<circle cx="399.6" cy="265" r="1.55"/>
<circle cx="423" cy="284" r="1.55"/>
<circle cx="418.5" cy="300.4" r="1.55"/>
<circle cx="421" cy="299" r="1.55"/>
<circle cx="425.6" cy="301.5" r="1.55"/>
<circle cx="432" cy="298" r="1.55"/>
<circle cx="394" cy="342.7" r="1.55"/>
<circle cx="401" cy="346" r="1.55"/>
<circle cx="395" cy="350" r="1.55"/>
<circle cx="398.5" cy="350" r="1.55"/>
<circle cx="427.8" cy="434.8" r="1.55"/>
<circle cx="438" cy="543" r="1.55"/>
<circle cx="446.7" cy="555" r="1.55"/>
<circle cx="406.6" cy="613" r="1.55"/>
<circle cx="488" cy="606" r="1.55"/>
<circle cx="496" cy="399.6" r="1.55"/>
<circle cx="494" cy="406" r="1.55"/>
<circle cx="706.4" cy="403" r="1.55"/>
<circle cx="701" cy="419" r="1.55"/>
<circle cx="703" cy="429" r="1.55"/>
<circle cx="651" cy="419" r="1.55"/>
<circle cx="651" cy="423" r="1.55"/>
<circle cx="621" cy="440" r="1.55"/>
<circle cx="648" cy="484" r="1.55"/>
<circle cx="654" cy="481" r="1.55"/>
<circle cx="673" cy="479" r="1.55"/>
<circle cx="625.7" cy="577.7" r="1.55"/>
<circle cx="782" cy="450.8" r="1.55"/>
<circle cx="810" cy="444.6" r="1.55"/>
<circle cx="631.25" cy="305.5" r="1.45"/>
<circle cx="703.06" cy="359.69" r="1.55"/>
<circle cx="704" cy="365.31" r="1.55"/>
<circle cx="706.81" cy="385.94" r="1.55"/>
<circle cx="707.56" cy="393.44" r="1.55"/>
<circle cx="706.81" cy="402.81" r="1.55"/>
<circle cx="767.75" cy="366.62" r="1.55"/>
<circle cx="770" cy="371.88" r="1.55"/>
<circle cx="771.5" cy="374.69" r="1.55"/>
<circle cx="772.44" cy="377.5" r="1.55"/>
<circle cx="896.81" cy="277.56" r="1.65"/>
<circle cx="900" cy="281.88" r="1.65"/>
<circle cx="875.62" cy="293.12" r="1.65"/>
<circle cx="874.69" cy="301" r="1.65"/>
<circle cx="861.56" cy="314.31" r="1.65"/>
<circle cx="865.88" cy="314.31" r="1.65"/>
<circle cx="915" cy="305.31" r="1.65"/>
<circle cx="914.62" cy="313.75" r="1.65"/>
<circle cx="881.88" cy="436" r="1.55"/>
<circle cx="887.5" cy="435.25" r="1.55"/>
<circle cx="893.5" cy="434.12" r="1.55"/>
<circle cx="876.25" cy="433.75" r="1.55"/>
<circle cx="872.5" cy="412.19" r="1.55"/>
<circle cx="876.25" cy="413.12" r="1.55"/>
<circle cx="882.25" cy="412.19" r="1.55"/>
<circle cx="890.31" cy="412.75" r="1.55"/>
<circle cx="891.25" cy="406" r="1.55"/>
<circle cx="897.81" cy="427.19" r="1.55"/>
<circle cx="943.38" cy="413.5" r="1.55"/>
<circle cx="952.56" cy="411.25" r="1.55"/>
<circle cx="954.06" cy="441.25" r="1.55"/>
<circle cx="961" cy="439.75" r="1.55"/>
<circle cx="914.69" cy="313.75" r="1.55"/>
<circle cx="933.44" cy="336.25" r="1.55"/>
<circle cx="933.44" cy="339.06" r="1.55"/>
<circle cx="935.31" cy="349.38" r="1.55"/>
<circle cx="933.44" cy="355.94" r="1.55"/>
<circle cx="913.75" cy="370.56" r="1.55"/>
<circle cx="903.06" cy="378.44" r="1.55"/>
<circle cx="957.44" cy="378.44" r="1.55"/>
<circle cx="978.44" cy="379.94" r="1.55"/>
<circle cx="994.38" cy="385.94" r="1.55"/>
<circle cx="861.81" cy="314.69" r="1.55"/>
<circle cx="865.94" cy="314.69" r="1.55"/>
<circle cx="767.5" cy="366.25" r="1.55"/>
<circle cx="768.44" cy="371.88" r="1.55"/>
<circle cx="770.31" cy="374.69" r="1.55"/>
<circle cx="771.25" cy="377.5" r="1.55"/>
<circle cx="773.12" cy="379.38" r="1.55"/>
<circle cx="780.62" cy="395.88" r="1.55"/>
<circle cx="784.94" cy="401.88" r="1.55"/>
<circle cx="790" cy="410.31" r="1.55"/>
<circle cx="818.5" cy="417.44" r="1.55"/>
<circle cx="809.69" cy="443.5" r="1.55"/>
<circle cx="856.56" cy="386.5" r="1.55"/>
<circle cx="861.25" cy="384.06" r="1.55"/>
<circle cx="807.81" cy="403.75" r="1.55"/>
<circle cx="809.92" cy="444.65" r="1.55"/>
<circle cx="937.01" cy="592.99" r="1.55"/>
<circle cx="975.51" cy="590.16" r="1.55"/>
<circle cx="992.52" cy="513.39" r="1.55"/>
<circle cx="977.64" cy="476.77" r="1.55"/>
<circle cx="1036.93" cy="451.97" r="1.55"/>
<circle cx="1001.5" cy="446.06" r="1.55"/>
<circle cx="961.81" cy="447.72" r="1.55"/>
<circle cx="983.07" cy="448.43" r="1.55"/>
<circle cx="954.72" cy="441.34" r="1.55"/>
<circle cx="961.1" cy="439.92" r="1.55"/>
<circle cx="1004.33" cy="454.8" r="1.55"/>
<circle cx="1003.62" cy="463.07" r="1.55"/>
<circle cx="1005.51" cy="467.8" r="1.55"/>
<circle cx="1007.4" cy="473.7" r="1.55"/>
<circle cx="1007.87" cy="479.61" r="1.55"/>
<circle cx="1007.4" cy="481.97" r="1.55"/>
<circle cx="997.95" cy="481.5" r="1.55"/>
<circle cx="1001.5" cy="486.69" r="1.55"/>
<circle cx="934.17" cy="337.5" r="1.55"/>
<circle cx="935" cy="348.75" r="1.55"/>
<circle cx="933.33" cy="355.83" r="1.55"/>
<circle cx="1075.83" cy="343.75" r="1.55"/>
<circle cx="1011.25" cy="369.58" r="1.55"/>
<circle cx="957.08" cy="378.75" r="1.55"/>
<circle cx="978.75" cy="380" r="1.55"/>
<circle cx="994.58" cy="386.25" r="1.55"/>
<circle cx="1027.08" cy="399.17" r="1.55"/>
<circle cx="1061.25" cy="405.42" r="1.55"/>
<circle cx="1038.33" cy="411.25" r="1.55"/>
<circle cx="1075.83" cy="416.25" r="1.55"/>
<circle cx="1043.75" cy="432.92" r="1.55"/>
<circle cx="1073.75" cy="439.17" r="1.55"/>
<circle cx="1074.58" cy="446.67" r="1.55"/>
<circle cx="1000.83" cy="445.83" r="1.55"/>
<circle cx="1036.25" cy="452.5" r="1.55"/>
<circle cx="1071.67" cy="457.08" r="1.55"/>
<circle cx="1075.42" cy="457.92" r="1.55"/>
<circle cx="1079.17" cy="459.17" r="1.55"/>
<circle cx="1060.42" cy="474.58" r="1.55"/>
<circle cx="1072.92" cy="476.67" r="1.55"/>
<circle cx="1054.17" cy="484.58" r="1.55"/>
<circle cx="977.08" cy="476.67" r="1.55"/>
<circle cx="992.5" cy="513.33" r="1.55"/>
<circle cx="937.08" cy="593.75" r="1.55"/>
<circle cx="975.42" cy="589.58" r="1.55"/>
<circle cx="943.75" cy="413.75" r="1.55"/>
<circle cx="952.08" cy="411.25" r="1.55"/>
<circle cx="954.17" cy="441.67" r="1.55"/>
<circle cx="960.42" cy="440.42" r="1.55"/>
<circle cx="962.08" cy="447.92" r="1.55"/>
<circle cx="982.92" cy="449.17" r="1.55"/>
<circle cx="24.5" cy="434.7" r="1.55"/>
<circle cx="27" cy="438" r="1.55"/>
<circle cx="30" cy="442" r="1.55"/>
<circle cx="10" cy="465" r="1.55"/>
<circle cx="20" cy="467" r="1.55"/>
<circle cx="29" cy="471.5" r="1.55"/>
<circle cx="44" cy="474" r="1.55"/>
<circle cx="33" cy="485.7" r="1.55"/>
<circle cx="52" cy="490" r="1.55"/>
<circle cx="28" cy="508" r="1.55"/>
<circle cx="7" cy="491" r="1.55"/>
<circle cx="124" cy="335.7" r="1.55"/>
<circle cx="904.2" cy="607.3" r="1.55"/>
<circle cx="1037.6" cy="300.8" r="1.55"/>
</g>
</svg>
<div id="bar"></div><div class="tk" style="top:157.53px"></div><div class="tk" style="top:222.81px"></div><div class="tk" style="top:288.09px"></div><div class="tk" style="top:353.38px"></div><div class="tk" style="top:418.66px"></div><div class="tk" style="top:483.94px"></div><div class="tk" style="top:549.22px"></div>
<div class="lb" style="top:91.1px;left:1143.5px">Mature</div>
<div class="lb" style="top:212.6px;left:1144.5px">Widespread</div>
<div class="lb" style="top:344.8px;left:1142px">Spreading</div>
<div class="lb" style="top:470.7px;left:1141.7px">Basic</div>
<div class="lb" style="top:603.2px;left:1142px">Interest</div>
<div id="notes">Notes: No data exists for the blank areas. The boundaries shown and the designations used on this map do not imply official endorsement or acceptance by the United Nations.</div>
</body></html>
